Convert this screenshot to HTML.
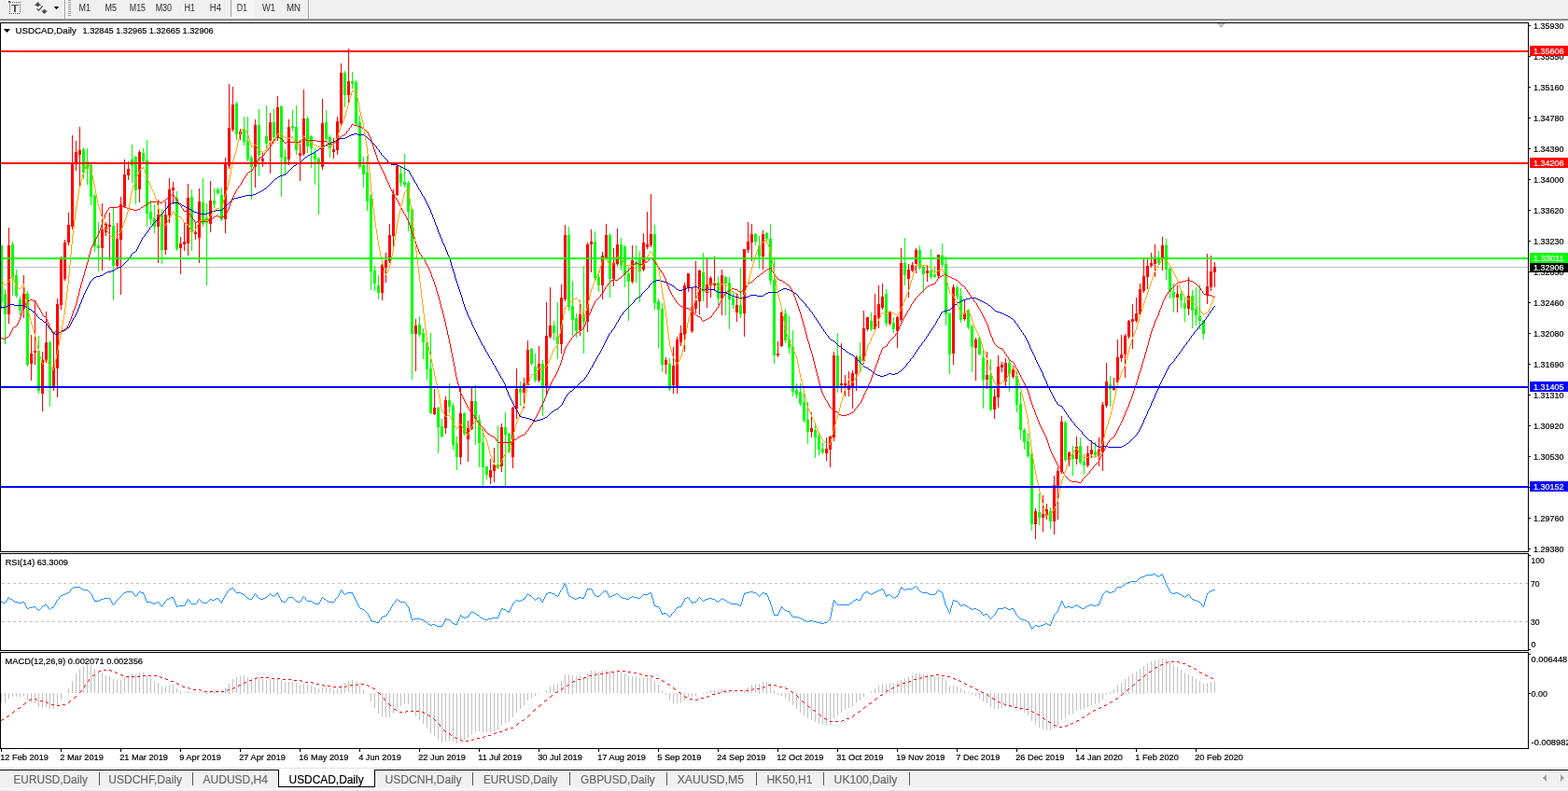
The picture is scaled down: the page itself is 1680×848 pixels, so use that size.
<!DOCTYPE html>
<html><head><meta charset="utf-8"><title>USDCAD,Daily</title>
<style>html,body{margin:0;padding:0;background:#fff;width:1680px;height:848px;overflow:hidden}
svg{position:absolute;left:0;top:0;display:block}
text{font-family:"Liberation Sans",sans-serif;white-space:pre;stroke:currentColor;stroke-width:0.2px}</style></head>
<body><svg width="1680" height="848" viewBox="0 0 1680 848" shape-rendering="crispEdges">
<rect x="0" y="0" width="1680" height="20" fill="#f0f0f0"/>
<rect x="0" y="20" width="1680" height="1" fill="#a8a8a8"/>
<rect x="0" y="21" width="1680" height="1" fill="#6e6e6e"/>
<path d="M13 2h1v1h-1z M15 2h1v1h-1z M17 2h1v1h-1z M19 2h1v1h-1z M21 2h1v1h-1z M10 14h1v1h-1z M12 14h1v1h-1z M14 14h1v1h-1z M16 14h1v1h-1z M18 14h1v1h-1z M20 14h1v1h-1z M10 4h1v1h-1z M10 6h1v1h-1z M10 8h1v1h-1z M10 10h1v1h-1z M10 12h1v1h-1z M21 4h1v1h-1z M21 6h1v1h-1z M21 8h1v1h-1z M21 10h1v1h-1z M21 12h1v1h-1z" fill="#555"/>
<path d="M9 1h2v1h1v1h-3z" fill="#555"/>
<rect x="12" y="5" width="8" height="1.2" fill="#555"/><rect x="15.2" y="5" width="1.7" height="7.6" fill="#555"/>
<path d="M37 5.9 L40.5 2 L44 5.9 Z M39.3 5.8h2.4v1.2h-2.4z M46.4 10.2h2.4v1.3h-2.4z M44 11.4 L51 11.4 L47.5 14.9 Z" fill="#4a4a4a" shape-rendering="auto"/>
<path d="M39.5 9.3 L41.4 11.4 L45.7 6.4" stroke="#505050" stroke-width="1.2" fill="none" shape-rendering="auto"/>
<path d="M57.8 7 L63.2 7 L60.5 10.2 Z" fill="#000" shape-rendering="auto"/>
<rect x="69" y="0" width="1" height="20" fill="#a0a0a0"/><rect x="70" y="0" width="1" height="20" fill="#fff"/>
<path d="M73 0h3v1h-3z M73 2h3v1h-3z M73 4h3v1h-3z M73 6h3v1h-3z M73 8h3v1h-3z M73 10h3v1h-3z M73 12h3v1h-3z M73 14h3v1h-3z M73 16h3v1h-3z" fill="#a0a0a0"/>
<rect x="247" y="0" width="1" height="18" fill="#a0a0a0"/>
<rect x="248" y="0" width="24" height="18" fill="#f6f6f6"/>
<rect x="247" y="18" width="26" height="1" fill="#fff"/>
<rect x="330" y="0" width="1" height="20" fill="#a0a0a0"/><rect x="331" y="0" width="1" height="20" fill="#fff"/>
<text x="84.6" y="12" font-size="10" fill="#404040" color="#404040" textLength="12.4" lengthAdjust="spacingAndGlyphs" style="stroke-width:0.1px">M1</text>
<text x="112.5" y="12" font-size="10" fill="#404040" color="#404040" textLength="12.5" lengthAdjust="spacingAndGlyphs" style="stroke-width:0.1px">M5</text>
<text x="138.8" y="12" font-size="10" fill="#404040" color="#404040" textLength="17.2" lengthAdjust="spacingAndGlyphs" style="stroke-width:0.1px">M15</text>
<text x="166.7" y="12" font-size="10" fill="#404040" color="#404040" textLength="17.3" lengthAdjust="spacingAndGlyphs" style="stroke-width:0.1px">M30</text>
<text x="197.6" y="12" font-size="10" fill="#404040" color="#404040" textLength="11.4" lengthAdjust="spacingAndGlyphs" style="stroke-width:0.1px">H1</text>
<text x="224.8" y="12" font-size="10" fill="#404040" color="#404040" textLength="12.2" lengthAdjust="spacingAndGlyphs" style="stroke-width:0.1px">H4</text>
<text x="253.8" y="12" font-size="10" fill="#404040" color="#404040" textLength="11.2" lengthAdjust="spacingAndGlyphs" style="stroke-width:0.1px">D1</text>
<text x="281" y="12" font-size="10" fill="#404040" color="#404040" textLength="14" lengthAdjust="spacingAndGlyphs" style="stroke-width:0.1px">W1</text>
<text x="307" y="12" font-size="10" fill="#404040" color="#404040" textLength="15" lengthAdjust="spacingAndGlyphs" style="stroke-width:0.1px">MN</text>
<rect x="0" y="22" width="1680" height="802" fill="#fff"/>
<g fill="#000">
<rect x="0" y="24" width="1638" height="1"/>
<rect x="0" y="24" width="1" height="568"/>
<rect x="1637" y="24" width="1" height="568"/>
<rect x="0" y="591" width="1638" height="1"/>
<rect x="0" y="593" width="1638" height="1"/><rect x="0" y="593" width="1" height="105"/><rect x="1637" y="593" width="1" height="105"/><rect x="0" y="697" width="1638" height="1"/>
<rect x="0" y="699" width="1638" height="1"/><rect x="0" y="699" width="1" height="104"/><rect x="1637" y="699" width="1" height="104"/><rect x="0" y="802" width="1638" height="1"/>
</g>
<path d="M1304 25 L1313 25 L1308.5 30 Z" fill="#c0c0c0" shape-rendering="auto"/>
<defs><clipPath id="cm"><rect x="1" y="25" width="1636" height="566"/></clipPath><clipPath id="cr"><rect x="1" y="594" width="1636" height="103"/></clipPath><clipPath id="cd"><rect x="1" y="700" width="1636" height="102"/></clipPath></defs>
<g clip-path="url(#cm)">
<rect x="1" y="286" width="1636" height="1" fill="#c0c0c0"/>
<path d="M9 244h1v103h-1z M25 295h1v46h-1z M33 359h1v49h-1z M37 322h1v69h-1z M45 377h1v64h-1z M49 334h1v55h-1z M57 358h1v61h-1z M61 320h1v106h-1z M65 275h1v57h-1z M69 257h1v44h-1z M73 228h1v35h-1z M77 145h1v101h-1z M81 151h1v32h-1z M85 136h1v63h-1z M109 218h1v72h-1z M113 238h1v15h-1z M117 228h1v51h-1z M125 239h1v48h-1z M129 211h1v105h-1z M133 171h1v52h-1z M137 173h1v20h-1z M149 161h1v56h-1z M169 214h1v68h-1z M177 216h1v57h-1z M181 191h1v48h-1z M185 195h1v24h-1z M193 254h1v40h-1z M197 239h1v30h-1z M201 197h1v77h-1z M209 238h1v19h-1z M213 202h1v80h-1z M225 194h1v55h-1z M241 169h1v81h-1z M245 90h1v91h-1z M249 93h1v48h-1z M257 138h1v12h-1z M273 128h1v73h-1z M281 164h1v15h-1z M289 121h1v65h-1z M297 103h1v48h-1z M309 128h1v49h-1z M321 150h1v44h-1z M325 96h1v71h-1z M345 106h1v76h-1z M357 148h1v22h-1z M361 125h1v41h-1z M365 68h1v66h-1z M373 52h1v59h-1z M409 282h1v40h-1z M413 271h1v32h-1z M417 240h1v42h-1z M421 203h1v62h-1z M425 177h1v33h-1z M445 342h1v56h-1z M465 417h1v28h-1z M477 425h1v40h-1z M493 416h1v82h-1z M501 451h1v44h-1z M505 416h1v45h-1z M525 492h1v27h-1z M529 480h1v37h-1z M537 454h1v52h-1z M549 436h1v66h-1z M553 395h1v54h-1z M561 405h1v33h-1z M565 365h1v50h-1z M577 371h1v39h-1z M585 324h1v100h-1z M589 308h1v55h-1z M601 305h1v74h-1z M605 241h1v82h-1z M621 322h1v38h-1z M629 260h1v96h-1z M633 246h1v46h-1z M645 270h1v51h-1z M649 240h1v38h-1z M657 266h1v41h-1z M661 245h1v40h-1z M677 263h1v41h-1z M689 250h1v41h-1z M693 227h1v40h-1z M697 208h1v57h-1z M713 383h1v18h-1z M721 372h1v50h-1z M725 361h1v61h-1z M729 349h1v22h-1z M733 303h1v74h-1z M737 293h1v20h-1z M741 309h1v48h-1z M745 280h1v56h-1z M749 289h1v48h-1z M757 278h1v52h-1z M761 296h1v23h-1z M765 275h1v37h-1z M773 289h1v49h-1z M789 314h1v31h-1z M797 267h1v94h-1z M801 238h1v33h-1z M805 240h1v40h-1z M817 247h1v42h-1z M833 366h1v17h-1z M837 334h1v38h-1z M869 442h1v27h-1z M885 469h1v25h-1z M889 467h1v34h-1z M893 377h1v96h-1z M901 368h1v53h-1z M905 402h1v23h-1z M909 398h1v27h-1z M913 397h1v41h-1z M917 381h1v38h-1z M925 333h1v57h-1z M929 340h1v15h-1z M937 315h1v40h-1z M941 306h1v46h-1z M945 304h1v28h-1z M953 333h1v16h-1z M961 339h1v34h-1z M965 266h1v79h-1z M973 283h1v36h-1z M977 281h1v11h-1z M981 266h1v27h-1z M993 285h1v17h-1z M1005 273h1v25h-1z M1021 305h1v86h-1z M1033 322h1v22h-1z M1045 362h1v46h-1z M1057 377h1v40h-1z M1065 417h1v32h-1z M1069 381h1v56h-1z M1073 388h1v11h-1z M1077 384h1v30h-1z M1085 392h1v14h-1z M1109 545h1v33h-1z M1117 531h1v39h-1z M1121 540h1v17h-1z M1129 510h1v63h-1z M1133 501h1v56h-1z M1137 446h1v62h-1z M1145 484h1v16h-1z M1153 468h1v30h-1z M1165 478h1v23h-1z M1169 472h1v19h-1z M1177 469h1v31h-1z M1181 431h1v74h-1z M1185 389h1v48h-1z M1193 405h1v14h-1z M1197 364h1v48h-1z M1201 359h1v29h-1z M1205 358h1v47h-1z M1209 343h1v20h-1z M1213 326h1v48h-1z M1217 319h1v27h-1z M1221 304h1v35h-1z M1225 278h1v36h-1z M1229 278h1v32h-1z M1233 271h1v16h-1z M1237 262h1v35h-1z M1245 254h1v36h-1z M1261 306h1v29h-1z M1273 297h1v41h-1z M1293 272h1v54h-1z M1297 274h1v38h-1z M1301 281h1v27h-1z M8 263h3v74h-3z M24 315h3v16h-3z M32 379h3v11h-3z M36 376h3v2h-3z M44 386h3v36h-3z M48 367h3v20h-3z M56 394h3v20h-3z M60 326h3v69h-3z M64 278h3v49h-3z M68 260h3v39h-3z M72 241h3v19h-3z M76 175h3v68h-3z M80 163h3v13h-3z M84 161h3v5h-3z M108 246h3v20h-3z M112 240h3v9h-3z M116 241h3v2h-3z M124 256h3v29h-3z M128 219h3v38h-3z M132 187h3v34h-3z M136 181h3v7h-3z M148 163h3v40h-3z M168 230h3v13h-3z M176 230h3v38h-3z M180 203h3v28h-3z M184 201h3v3h-3z M192 261h3v5h-3z M196 259h3v3h-3z M200 212h3v49h-3z M208 249h3v2h-3z M212 216h3v39h-3z M224 215h3v25h-3z M240 174h3v61h-3z M244 137h3v41h-3z M248 112h3v27h-3z M256 141h3v3h-3z M272 134h3v45h-3z M280 170h3v3h-3z M288 131h3v20h-3z M296 115h3v32h-3z M308 136h3v35h-3z M320 164h3v3h-3z M324 127h3v38h-3z M344 132h3v47h-3z M356 160h3v3h-3z M360 130h3v31h-3z M364 78h3v54h-3z M372 87h3v15h-3z M408 284h3v30h-3z M412 279h3v8h-3z M416 252h3v28h-3z M420 208h3v45h-3z M424 178h3v31h-3z M444 349h3v9h-3z M464 437h3v7h-3z M476 429h3v30h-3z M492 443h3v47h-3z M500 459h3v12h-3z M504 430h3v30h-3z M524 504h3v8h-3z M528 498h3v7h-3z M536 458h3v42h-3z M548 437h3v53h-3z M552 417h3v21h-3z M560 411h3v10h-3z M564 375h3v38h-3z M576 390h3v18h-3z M584 360h3v55h-3z M588 349h3v12h-3z M600 319h3v50h-3z M604 252h3v69h-3z M620 337h3v17h-3z M628 262h3v83h-3z M632 259h3v3h-3z M644 274h3v32h-3z M648 252h3v24h-3z M656 282h3v17h-3z M660 262h3v21h-3z M676 279h3v23h-3z M688 260h3v29h-3z M692 262h3v3h-3z M696 251h3v12h-3z M712 386h3v5h-3z M720 392h3v21h-3z M724 364h3v52h-3z M728 357h3v10h-3z M732 306h3v53h-3z M736 293h3v15h-3z M740 329h3v26h-3z M744 322h3v9h-3z M748 290h3v33h-3z M756 305h3v9h-3z M760 298h3v8h-3z M764 303h3v3h-3z M772 295h3v25h-3z M788 327h3v8h-3z M796 267h3v69h-3z M800 259h3v9h-3z M804 251h3v9h-3z M816 251h3v24h-3z M832 379h3v2h-3z M836 335h3v36h-3z M868 459h3v4h-3z M884 481h3v5h-3z M888 468h3v14h-3z M892 381h3v88h-3z M900 411h3v2h-3z M904 411h3v2h-3z M908 413h3v5h-3z M912 400h3v15h-3z M916 383h3v18h-3z M924 352h3v35h-3z M928 340h3v13h-3z M936 338h3v15h-3z M940 326h3v15h-3z M944 318h3v12h-3z M952 335h3v12h-3z M960 340h3v15h-3z M964 282h3v61h-3z M972 289h3v10h-3z M976 284h3v6h-3z M980 268h3v15h-3z M992 290h3v3h-3z M1004 273h3v23h-3z M1020 308h3v71h-3z M1032 336h3v6h-3z M1044 364h3v9h-3z M1056 402h3v5h-3z M1064 425h3v14h-3z M1068 393h3v33h-3z M1072 391h3v3h-3z M1076 389h3v20h-3z M1084 395h3v9h-3z M1108 548h3v14h-3z M1116 551h3v4h-3z M1120 546h3v7h-3z M1128 520h3v39h-3z M1132 505h3v16h-3z M1136 452h3v54h-3z M1144 485h3v8h-3z M1152 479h3v13h-3z M1164 486h3v13h-3z M1168 482h3v5h-3z M1176 482h3v6h-3z M1180 434h3v51h-3z M1184 409h3v26h-3z M1192 414h3v4h-3z M1196 383h3v27h-3z M1200 380h3v4h-3z M1204 360h3v20h-3z M1208 344h3v17h-3z M1212 342h3v3h-3z M1216 336h3v8h-3z M1220 310h3v27h-3z M1224 296h3v16h-3z M1228 285h3v12h-3z M1232 282h3v3h-3z M1236 276h3v7h-3z M1244 263h3v15h-3z M1260 315h3v4h-3z M1272 317h3v14h-3z M1292 307h3v10h-3z M1296 291h3v17h-3z M1300 286h3v6h-3z" fill="#ff0000"/>
<path d="M1 263h1v68h-1z M5 310h1v59h-1z M13 259h1v58h-1z M17 289h1v30h-1z M21 318h1v20h-1z M29 312h1v81h-1z M41 360h1v62h-1z M53 365h1v71h-1z M89 158h1v34h-1z M93 159h1v39h-1z M97 175h1v45h-1z M101 208h1v62h-1z M105 238h1v53h-1z M121 223h1v99h-1z M141 155h1v41h-1z M145 167h1v52h-1z M153 159h1v17h-1z M157 150h1v93h-1z M161 215h1v26h-1z M165 219h1v31h-1z M173 224h1v59h-1z M189 205h1v64h-1z M205 203h1v66h-1z M217 191h1v52h-1z M221 218h1v88h-1z M229 202h1v21h-1z M233 201h1v8h-1z M237 201h1v36h-1z M253 109h1v41h-1z M261 125h1v31h-1z M265 125h1v48h-1z M269 167h1v47h-1z M277 117h1v72h-1z M285 113h1v48h-1z M293 117h1v34h-1z M301 113h1v98h-1z M305 160h1v27h-1z M313 118h1v23h-1z M317 113h1v53h-1z M329 125h1v39h-1z M333 145h1v35h-1z M337 159h1v39h-1z M341 168h1v62h-1z M349 118h1v33h-1z M353 145h1v24h-1z M369 76h1v39h-1z M377 77h1v18h-1z M381 86h1v49h-1z M385 124h1v57h-1z M389 168h1v33h-1z M393 167h1v59h-1z M397 208h1v103h-1z M401 285h1v27h-1z M405 295h1v26h-1z M429 178h1v22h-1z M433 165h1v36h-1z M437 194h1v54h-1z M441 224h1v183h-1z M449 339h1v22h-1z M453 352h1v33h-1z M457 363h1v44h-1z M461 357h1v87h-1z M469 436h1v50h-1z M473 449h1v20h-1z M481 411h1v32h-1z M485 432h1v50h-1z M489 468h1v36h-1z M497 442h1v25h-1z M509 413h1v64h-1z M513 445h1v56h-1z M517 460h1v61h-1z M521 500h1v14h-1z M533 456h1v47h-1z M541 442h1v79h-1z M545 464h1v22h-1z M557 409h1v26h-1z M569 373h1v19h-1z M573 379h1v31h-1z M581 386h1v60h-1z M593 344h1v21h-1z M597 324h1v61h-1z M609 243h1v90h-1z M613 301h1v59h-1z M617 336h1v26h-1z M625 285h1v94h-1z M637 248h1v53h-1z M641 291h1v22h-1z M653 250h1v69h-1z M665 255h1v35h-1z M669 263h1v45h-1z M673 286h1v58h-1z M681 263h1v40h-1z M685 269h1v55h-1z M701 241h1v91h-1z M705 320h1v53h-1z M709 325h1v74h-1z M717 384h1v35h-1z M753 271h1v52h-1z M769 296h1v31h-1z M777 296h1v42h-1z M781 297h1v56h-1z M785 312h1v19h-1z M793 287h1v54h-1z M809 250h1v13h-1z M813 253h1v35h-1z M821 249h1v10h-1z M825 240h1v65h-1z M829 277h1v113h-1z M841 331h1v37h-1z M845 339h1v40h-1z M849 354h1v71h-1z M853 411h1v16h-1z M857 411h1v24h-1z M861 422h1v31h-1z M865 431h1v45h-1z M873 456h1v35h-1z M877 464h1v24h-1z M881 474h1v13h-1z M897 357h1v64h-1z M921 367h1v32h-1z M933 335h1v20h-1z M949 310h1v40h-1z M957 340h1v17h-1z M969 255h1v51h-1z M985 263h1v26h-1z M989 285h1v29h-1z M997 267h1v32h-1z M1001 285h1v13h-1z M1009 261h1v25h-1z M1013 275h1v74h-1z M1017 335h1v66h-1z M1025 306h1v15h-1z M1029 309h1v37h-1z M1037 331h1v22h-1z M1041 348h1v51h-1z M1049 360h1v21h-1z M1053 376h1v62h-1z M1061 385h1v56h-1z M1081 386h1v34h-1z M1089 398h1v44h-1z M1093 420h1v51h-1z M1097 459h1v23h-1z M1101 464h1v27h-1z M1105 486h1v83h-1z M1113 529h1v34h-1z M1125 544h1v23h-1z M1141 451h1v44h-1z M1149 478h1v32h-1z M1157 469h1v29h-1z M1161 487h1v22h-1z M1173 474h1v17h-1z M1189 403h1v33h-1z M1241 269h1v15h-1z M1249 256h1v44h-1z M1253 287h1v33h-1z M1257 304h1v31h-1z M1265 312h1v18h-1z M1269 320h1v25h-1z M1277 311h1v41h-1z M1281 308h1v41h-1z M1285 305h1v48h-1z M1289 343h1v21h-1z M0 263h3v61h-3z M4 315h3v22h-3z M12 262h3v35h-3z M16 295h3v22h-3z M20 321h3v12h-3z M28 315h3v76h-3z M40 376h3v43h-3z M52 367h3v47h-3z M88 160h3v25h-3z M92 173h3v8h-3z M96 177h3v34h-3z M100 210h3v54h-3z M104 263h3v3h-3z M120 242h3v43h-3z M140 171h3v7h-3z M144 168h3v36h-3z M152 164h3v9h-3z M156 172h3v57h-3z M160 227h3v8h-3z M164 234h3v9h-3z M172 230h3v38h-3z M188 212h3v55h-3z M204 211h3v38h-3z M216 217h3v23h-3z M220 234h3v5h-3z M228 215h3v4h-3z M232 203h3v4h-3z M236 209h3v26h-3z M252 111h3v33h-3z M260 138h3v14h-3z M264 151h3v20h-3z M268 169h3v10h-3z M276 134h3v32h-3z M284 146h3v8h-3z M292 131h3v16h-3z M300 114h3v55h-3z M304 168h3v6h-3z M312 135h3v2h-3z M316 136h3v25h-3z M328 127h3v30h-3z M332 146h3v13h-3z M336 164h3v7h-3z M340 170h3v5h-3z M348 131h3v18h-3z M352 147h3v12h-3z M368 78h3v24h-3z M376 87h3v3h-3z M380 88h3v45h-3z M384 131h3v48h-3z M388 177h3v10h-3z M392 185h3v31h-3z M396 210h3v81h-3z M400 290h3v14h-3z M404 306h3v8h-3z M428 186h3v10h-3z M432 195h3v3h-3z M436 196h3v31h-3z M440 224h3v134h-3z M448 348h3v11h-3z M452 357h3v10h-3z M456 367h3v29h-3z M460 395h3v48h-3z M468 437h3v21h-3z M472 457h3v11h-3z M480 429h3v7h-3z M484 435h3v42h-3z M488 475h3v15h-3z M496 443h3v22h-3z M508 430h3v19h-3z M512 450h3v25h-3z M516 474h3v27h-3z M520 500h3v9h-3z M532 498h3v3h-3z M540 458h3v8h-3z M544 465h3v19h-3z M556 417h3v4h-3z M568 374h3v16h-3z M572 393h3v15h-3z M580 390h3v25h-3z M592 349h3v8h-3z M596 361h3v8h-3z M608 252h3v77h-3z M612 328h3v15h-3z M616 341h3v14h-3z M624 338h3v7h-3z M636 259h3v39h-3z M640 297h3v9h-3z M652 252h3v47h-3z M664 262h3v23h-3z M668 264h3v30h-3z M672 293h3v9h-3z M680 281h3v3h-3z M684 276h3v15h-3z M700 251h3v74h-3z M704 323h3v9h-3z M708 331h3v60h-3z M716 390h3v27h-3z M752 292h3v21h-3z M768 303h3v17h-3z M776 297h3v7h-3z M780 303h3v18h-3z M784 320h3v7h-3z M792 327h3v10h-3z M808 251h3v8h-3z M812 263h3v12h-3z M820 250h3v6h-3z M824 256h3v45h-3z M828 300h3v81h-3z M840 336h3v29h-3z M844 364h3v9h-3z M848 372h3v48h-3z M852 418h3v5h-3z M856 420h3v13h-3z M860 431h3v20h-3z M864 450h3v13h-3z M872 461h3v8h-3z M876 468h3v14h-3z M880 481h3v4h-3z M896 381h3v34h-3z M920 382h3v6h-3z M932 344h3v9h-3z M948 315h3v32h-3z M956 346h3v7h-3z M968 282h3v13h-3z M984 268h3v19h-3z M988 286h3v8h-3z M996 290h3v7h-3z M1000 294h3v3h-3z M1008 274h3v10h-3z M1012 283h3v54h-3z M1016 336h3v44h-3z M1024 308h3v10h-3z M1028 317h3v26h-3z M1036 332h3v19h-3z M1040 350h3v22h-3z M1048 362h3v18h-3z M1052 383h3v24h-3z M1060 402h3v37h-3z M1080 389h3v12h-3z M1088 403h3v31h-3z M1092 433h3v28h-3z M1096 461h3v13h-3z M1100 473h3v16h-3z M1104 487h3v75h-3z M1112 549h3v6h-3z M1124 548h3v11h-3z M1140 453h3v40h-3z M1148 488h3v4h-3z M1156 478h3v18h-3z M1160 495h3v4h-3z M1172 484h3v4h-3z M1188 412h3v5h-3z M1240 276h3v6h-3z M1248 263h3v26h-3z M1252 288h3v25h-3z M1256 313h3v6h-3z M1264 315h3v7h-3z M1268 325h3v6h-3z M1276 317h3v16h-3z M1280 331h3v7h-3z M1284 339h3v5h-3z M1288 344h3v14h-3z" fill="#00ff00"/>
<path d="M0 0m1 329h5v1h-5zm5 -1h2v1h-2zm2 -1h3v1h-3zm3 -1h4v1h-4zm4 1h11v1h-11zm11 1h2v1h-2zm2 1h2v1h-2zm2 1h1v1h-1zm1 1h2v1h-2zm2 1h1v1h-1zm1 1h1v1h-1zm1 1h2v1h-2zm2 1h1v1h-1zm1 1h1v1h-1zm1 1h1v2h-1zm1 2h1v1h-1zm1 1h1v1h-1zm1 1h1v1h-1zm1 1h2v1h-2zm2 1h1v1h-1zm1 1h1v1h-1zm1 1h2v1h-2zm2 1h1v1h-1zm1 1h1v2h-1zm1 2h1v1h-1zm1 1h1v2h-1zm1 2h1v1h-1zm1 1h1v1h-1zm1 1h1v2h-1zm1 2h1v1h-1zm1 1h2v1h-2zm2 1h3v1h-3zm3 -1h1v1h-1zm1 -1h2v1h-2zm2 -1h1v1h-1zm1 -1h2v1h-2zm2 -1h2v1h-2zm2 -1h2v1h-2zm2 -1h2v1h-2zm2 -2h1v2h-1zm1 -2h1v2h-1zm1 -2h1v2h-1zm1 -2h1v2h-1zm1 -2h1v2h-1zm1 -1h1v1h-1zm1 -2h1v2h-1zm1 -2h1v2h-1zm1 -2h1v2h-1zm1 -3h1v3h-1zm1 -2h1v2h-1zm1 -3h1v3h-1zm1 -2h1v2h-1zm1 -3h1v3h-1zm1 -2h1v2h-1zm1 -3h1v3h-1zm1 -2h1v2h-1zm1 -2h1v2h-1zm1 -2h1v2h-1zm1 -2h1v2h-1zm1 -2h1v2h-1zm1 -2h1v2h-1zm1 -2h1v2h-1zm1 -1h1v1h-1zm1 -1h1v1h-1zm1 -1h1v1h-1zm1 -1h1v1h-1zm1 -1h2v1h-2zm2 -1h4v1h-4zm4 -1h3v1h-3zm3 -1h1v1h-1zm1 -1h2v1h-2zm2 -1h2v1h-2zm2 -1h4v1h-4zm4 -1h3v1h-3zm3 -1h1v1h-1zm1 -1h2v1h-2zm2 -1h2v1h-2zm2 -1h3v1h-3zm3 -1h1v1h-1zm1 -1h1v1h-1zm1 -1h1v1h-1zm1 -1h1v1h-1zm1 -1h1v1h-1zm1 -1h1v1h-1zm1 -1h1v1h-1zm1 -1h1v1h-1zm1 -2h1v2h-1zm1 -1h1v1h-1zm1 -2h1v2h-1zm1 -1h1v1h-1zm1 -1h1v1h-1zm1 -1h2v1h-2zm2 -1h1v1h-1zm1 -2h1v2h-1zm1 -2h1v2h-1zm1 -2h1v2h-1zm1 -2h1v2h-1zm1 -2h1v2h-1zm1 -2h1v2h-1zm1 -2h1v2h-1zm1 -1h1v1h-1zm1 -1h1v1h-1zm1 -2h1v2h-1zm1 -1h1v1h-1zm1 -1h1v1h-1zm1 -2h1v2h-1zm1 -1h1v1h-1zm1 -2h1v2h-1zm1 -1h1v1h-1zm1 -1h1v1h-1zm1 -2h1v2h-1zm1 -1h1v1h-1zm1 -1h1v1h-1zm1 -1h1v1h-1zm1 -1h1v1h-1zm1 -1h1v1h-1zm1 -1h1v1h-1zm1 -1h1v1h-1zm1 -2h1v2h-1zm1 -1h1v1h-1zm1 -1h1v1h-1zm1 -1h1v1h-1zm1 -2h1v2h-1zm1 -1h1v1h-1zm1 -1h1v1h-1zm1 -1h1v1h-1zm1 -2h1v2h-1zm1 -1h1v1h-1zm1 -1h1v1h-1zm1 -1h2v1h-2zm2 -1h7v1h-7zm7 1h3v1h-3zm3 1h1v1h-1zm1 1h2v1h-2zm2 1h2v1h-2zm2 1h3v1h-3zm3 1h1v1h-1zm1 1h2v1h-2zm2 1h1v1h-1zm1 1h2v1h-2zm2 1h3v1h-3zm3 1h4v1h-4zm4 1h7v1h-7zm7 -1h2v1h-2zm2 -1h3v1h-3zm3 -1h4v1h-4zm4 -1h7v1h-7zm7 -1h1v1h-1zm1 -1h1v1h-1zm1 -1h1v1h-1zm1 -1h1v1h-1zm1 -1h1v1h-1zm1 -1h1v1h-1zm1 -1h1v1h-1zm1 -1h1v1h-1zm1 -1h1v1h-1zm1 -1h1v1h-1zm1 -1h1v1h-1zm1 -1h2v1h-2zm2 -1h4v1h-4zm4 -1h4v1h-4zm4 -1h4v1h-4zm4 -1h8v1h-8zm8 -1h3v1h-3zm3 -1h2v1h-2zm2 -1h2v1h-2zm2 -1h2v1h-2zm2 -1h2v1h-2zm2 -1h1v1h-1zm1 -1h2v1h-2zm2 -1h1v1h-1zm1 -1h1v1h-1zm1 -1h1v1h-1zm1 -1h1v1h-1zm1 -1h1v1h-1zm1 -1h1v1h-1zm1 -1h1v1h-1zm1 -1h1v1h-1zm1 -1h1v1h-1zm1 -1h1v1h-1zm1 -1h2v1h-2zm2 -1h1v1h-1zm1 -1h2v1h-2zm2 -1h3v1h-3zm3 -1h3v1h-3zm3 -1h1v1h-1zm1 -1h1v1h-1zm1 -1h1v1h-1zm1 -1h1v1h-1zm1 -1h1v1h-1zm1 -1h1v1h-1zm1 -1h1v1h-1zm1 -1h1v1h-1zm1 -1h1v1h-1zm1 -1h2v1h-2zm2 -1h1v1h-1zm1 -1h2v1h-2zm2 -1h2v1h-2zm2 -1h1v1h-1zm1 -1h1v1h-1zm1 -1h1v1h-1zm1 -1h1v1h-1zm1 -1h1v1h-1zm1 -1h2v1h-2zm2 -1h1v1h-1zm1 -1h2v1h-2zm2 -1h2v1h-2zm2 -1h2v1h-2zm2 -1h2v1h-2zm2 -1h1v1h-1zm1 -1h2v1h-2zm2 -1h1v1h-1zm1 -1h2v1h-2zm2 -1h2v1h-2zm2 -1h1v1h-1zm1 -1h2v1h-2zm2 -1h2v1h-2zm2 -1h3v1h-3zm3 -1h1v1h-1zm1 -1h2v1h-2zm2 -1h2v1h-2zm2 -1h3v1h-3zm3 -1h2v1h-2zm2 -1h6v1h-6zm6 -1h2v1h-2zm2 -1h2v1h-2zm2 -1h2v1h-2zm2 -1h3v1h-3zm3 -1h4v1h-4zm4 1h7v1h-7zm7 1h1v1h-1zm1 1h2v1h-2zm2 1h1v1h-1zm1 1h1v1h-1zm1 1h1v1h-1zm1 1h1v1h-1zm1 1h1v1h-1zm1 1h1v1h-1zm1 1h1v1h-1zm1 1h1v1h-1zm1 1h1v1h-1zm1 1h1v1h-1zm1 1h1v2h-1zm1 2h1v1h-1zm1 1h1v1h-1zm1 1h1v2h-1zm1 2h1v1h-1zm1 1h1v2h-1zm1 2h1v1h-1zm1 1h1v1h-1zm1 1h1v1h-1zm1 1h1v1h-1zm1 1h1v1h-1zm1 1h1v1h-1zm1 1h1v2h-1zm1 2h1v1h-1zm1 1h2v1h-2zm2 1h7v1h-7zm7 1h2v1h-2zm2 1h2v1h-2zm2 1h2v1h-2zm2 1h2v1h-2zm2 1h2v1h-2zm2 1h2v1h-2zm2 1h1v2h-1zm1 2h1v2h-1zm1 2h1v2h-1zm1 2h1v1h-1zm1 1h1v2h-1zm1 2h1v2h-1zm1 2h1v2h-1zm1 2h1v1h-1zm1 1h1v2h-1zm1 2h1v2h-1zm1 2h1v2h-1zm1 2h1v1h-1zm1 1h1v2h-1zm1 2h1v2h-1zm1 2h1v2h-1zm1 2h1v1h-1zm1 1h1v2h-1zm1 2h1v2h-1zm1 2h1v2h-1zm1 2h1v2h-1zm1 2h1v2h-1zm1 2h1v2h-1zm1 2h1v2h-1zm1 2h1v3h-1zm1 3h1v2h-1zm1 2h1v3h-1zm1 3h1v2h-1zm1 2h1v3h-1zm1 3h1v3h-1zm1 3h1v2h-1zm1 2h1v3h-1zm1 3h1v3h-1zm1 3h1v2h-1zm1 2h1v3h-1zm1 3h1v2h-1zm1 2h1v3h-1zm1 3h1v2h-1zm1 2h1v2h-1zm1 2h1v2h-1zm1 2h1v3h-1zm1 3h1v2h-1zm1 2h1v3h-1zm1 3h1v2h-1zm1 2h1v3h-1zm1 3h1v3h-1zm1 3h1v4h-1zm1 4h1v3h-1zm1 3h1v3h-1zm1 3h1v3h-1zm1 3h1v4h-1zm1 4h1v3h-1zm1 3h1v3h-1zm1 3h1v3h-1zm1 3h1v3h-1zm1 3h1v3h-1zm1 3h1v3h-1zm1 3h1v3h-1zm1 3h1v4h-1zm1 4h1v3h-1zm1 3h1v3h-1zm1 3h1v3h-1zm1 3h1v2h-1zm1 2h1v3h-1zm1 3h1v2h-1zm1 2h1v2h-1zm1 2h1v2h-1zm1 2h1v2h-1zm1 2h1v3h-1zm1 3h1v2h-1zm1 2h1v2h-1zm1 2h1v2h-1zm1 2h1v2h-1zm1 2h1v2h-1zm1 2h1v2h-1zm1 2h1v2h-1zm1 2h1v2h-1zm1 2h1v2h-1zm1 2h1v2h-1zm1 2h1v2h-1zm1 2h1v1h-1zm1 1h1v2h-1zm1 2h1v2h-1zm1 2h1v2h-1zm1 2h1v1h-1zm1 1h1v2h-1zm1 2h1v2h-1zm1 2h1v2h-1zm1 2h1v1h-1zm1 1h1v2h-1zm1 2h1v2h-1zm1 2h1v2h-1zm1 2h1v1h-1zm1 1h1v2h-1zm1 2h1v2h-1zm1 2h1v2h-1zm1 2h1v1h-1zm1 1h1v2h-1zm1 2h1v2h-1zm1 2h1v2h-1zm1 2h1v1h-1zm1 1h1v2h-1zm1 2h1v2h-1zm1 2h1v2h-1zm1 2h1v3h-1zm1 3h1v3h-1zm1 3h1v2h-1zm1 2h1v3h-1zm1 3h1v2h-1zm1 2h1v2h-1zm1 2h1v2h-1zm1 2h1v2h-1zm1 2h1v2h-1zm1 2h1v2h-1zm1 2h1v2h-1zm1 2h1v2h-1zm1 2h1v1h-1zm1 1h1v2h-1zm1 2h1v2h-1zm1 2h1v2h-1zm1 2h2v1h-2zm2 1h4v1h-4zm4 1h4v1h-4zm4 1h3v1h-3zm3 1h2v1h-2zm2 1h3v1h-3zm3 -1h4v1h-4zm4 -1h3v1h-3zm3 -1h2v1h-2zm2 -1h2v1h-2zm2 -1h1v1h-1zm1 -1h1v1h-1zm1 -1h1v1h-1zm1 -1h1v1h-1zm1 -1h1v1h-1zm1 -1h2v1h-2zm2 -1h1v1h-1zm1 -1h2v1h-2zm2 -1h2v1h-2zm2 -1h1v1h-1zm1 -1h1v1h-1zm1 -1h1v1h-1zm1 -1h1v1h-1zm1 -2h1v2h-1zm1 -2h1v2h-1zm1 -2h1v2h-1zm1 -2h1v2h-1zm1 -1h1v1h-1zm1 -2h1v2h-1zm1 -1h1v1h-1zm1 -1h1v1h-1zm1 -1h1v1h-1zm1 -1h2v1h-2zm2 -1h1v1h-1zm1 -1h1v1h-1zm1 -1h1v1h-1zm1 -1h1v1h-1zm1 -1h1v1h-1zm1 -1h1v1h-1zm1 -1h1v1h-1zm1 -1h1v1h-1zm1 -1h1v1h-1zm1 -1h1v1h-1zm1 -1h2v1h-2zm2 -1h1v1h-1zm1 -2h1v2h-1zm1 -1h1v1h-1zm1 -2h1v2h-1zm1 -1h1v1h-1zm1 -2h1v2h-1zm1 -2h1v2h-1zm1 -2h1v2h-1zm1 -1h1v1h-1zm1 -2h1v2h-1zm1 -2h1v2h-1zm1 -2h1v2h-1zm1 -1h1v1h-1zm1 -2h1v2h-1zm1 -2h1v2h-1zm1 -2h1v2h-1zm1 -1h1v1h-1zm1 -2h1v2h-1zm1 -2h1v2h-1zm1 -2h1v2h-1zm1 -2h1v2h-1zm1 -2h1v2h-1zm1 -2h1v2h-1zm1 -2h1v2h-1zm1 -2h1v2h-1zm1 -2h1v2h-1zm1 -2h1v2h-1zm1 -2h1v2h-1zm1 -1h1v1h-1zm1 -1h1v1h-1zm1 -2h1v2h-1zm1 -1h1v1h-1zm1 -1h1v1h-1zm1 -2h1v2h-1zm1 -2h1v2h-1zm1 -2h1v2h-1zm1 -1h1v1h-1zm1 -2h1v2h-1zm1 -2h1v2h-1zm1 -2h1v2h-1zm1 -1h1v1h-1zm1 -1h1v1h-1zm1 -2h1v2h-1zm1 -1h1v1h-1zm1 -1h1v1h-1zm1 -1h1v1h-1zm1 -1h1v1h-1zm1 -1h1v1h-1zm1 -1h1v1h-1zm1 -1h1v1h-1zm1 -1h1v1h-1zm1 -1h1v1h-1zm1 -1h1v1h-1zm1 -1h1v1h-1zm1 -2h1v2h-1zm1 -1h1v1h-1zm1 -1h1v1h-1zm1 -1h2v1h-2zm2 -1h2v1h-2zm2 -1h1v1h-1zm1 -2h1v2h-1zm1 -1h1v1h-1zm1 -1h1v1h-1zm1 -1h1v1h-1zm1 -1h1v1h-1zm1 -1h1v1h-1zm1 -1h1v1h-1zm1 -1h1v1h-1zm1 -2h1v2h-1zm1 -1h1v1h-1zm1 -1h1v1h-1zm1 -1h1v1h-1zm1 -1h2v1h-2zm2 -1h2v1h-2zm2 -1h4v1h-4zm4 1h4v1h-4zm4 1h3v1h-3zm3 1h2v1h-2zm2 1h2v1h-2zm2 1h2v1h-2zm2 1h2v1h-2zm2 1h1v1h-1zm1 1h1v1h-1zm1 1h1v1h-1zm1 1h2v1h-2zm2 1h4v1h-4zm4 -1h3v1h-3zm3 -1h2v1h-2zm2 -1h7v1h-7zm7 -1h4v1h-4zm4 1h3v1h-3zm3 1h2v1h-2zm2 1h14v1h-14zm14 1h1v1h-1zm1 1h2v1h-2zm2 1h9v1h-9zm9 1h2v1h-2zm2 1h2v1h-2zm2 1h2v1h-2zm2 1h3v1h-3zm3 1h4v1h-4zm4 1h8v1h-8zm8 -1h3v1h-3zm3 -1h2v1h-2zm2 -1h7v1h-7zm7 1h7v1h-7zm7 -1h1v1h-1zm1 -1h2v1h-2zm2 -1h2v1h-2zm2 -1h11v1h-11zm11 -1h1v1h-1zm1 -1h2v1h-2zm2 -1h2v1h-2zm2 -1h4v1h-4zm4 1h3v1h-3zm3 1h2v1h-2zm2 1h2v1h-2zm2 1h1v1h-1zm1 1h2v1h-2zm2 1h1v1h-1zm1 1h1v1h-1zm1 1h1v2h-1zm1 2h1v1h-1zm1 1h1v1h-1zm1 1h1v1h-1zm1 1h1v1h-1zm1 1h1v1h-1zm1 1h1v1h-1zm1 1h1v1h-1zm1 1h1v2h-1zm1 2h1v1h-1zm1 1h1v1h-1zm1 1h1v1h-1zm1 1h1v2h-1zm1 2h1v1h-1zm1 1h1v1h-1zm1 1h1v2h-1zm1 2h1v1h-1zm1 1h1v2h-1zm1 2h1v1h-1zm1 1h1v2h-1zm1 2h1v1h-1zm1 1h1v2h-1zm1 2h1v1h-1zm1 1h1v2h-1zm1 2h1v1h-1zm1 1h1v2h-1zm1 2h1v1h-1zm1 1h1v2h-1zm1 2h1v1h-1zm1 1h1v2h-1zm1 2h1v1h-1zm1 1h1v1h-1zm1 1h1v2h-1zm1 2h1v1h-1zm1 1h1v1h-1zm1 1h2v1h-2zm2 1h2v1h-2zm2 1h1v1h-1zm1 1h1v1h-1zm1 1h1v1h-1zm1 1h1v1h-1zm1 1h1v1h-1zm1 1h2v1h-2zm2 1h1v1h-1zm1 1h1v1h-1zm1 1h2v1h-2zm2 1h1v1h-1zm1 1h1v1h-1zm1 1h2v1h-2zm2 1h1v1h-1zm1 1h2v1h-2zm2 1h2v1h-2zm2 1h1v1h-1zm1 1h1v1h-1zm1 1h1v1h-1zm1 1h1v1h-1zm1 1h1v1h-1zm1 1h1v1h-1zm1 1h1v1h-1zm1 1h1v1h-1zm1 1h1v1h-1zm1 1h1v1h-1zm1 1h1v1h-1zm1 1h1v1h-1zm1 1h2v1h-2zm2 1h2v1h-2zm2 1h1v1h-1zm1 1h2v1h-2zm2 1h1v1h-1zm1 1h1v1h-1zm1 1h2v1h-2zm2 1h1v1h-1zm1 1h2v1h-2zm2 1h3v1h-3zm3 1h4v1h-4zm4 -1h3v1h-3zm3 -1h2v1h-2zm2 -1h3v1h-3zm3 1h4v1h-4zm4 -1h3v1h-3zm3 -1h1v1h-1zm1 -1h2v1h-2zm2 -1h1v1h-1zm1 -1h1v1h-1zm1 -1h1v1h-1zm1 -1h1v1h-1zm1 -1h1v1h-1zm1 -1h1v1h-1zm1 -2h1v2h-1zm1 -1h1v1h-1zm1 -1h1v1h-1zm1 -1h1v1h-1zm1 -2h1v2h-1zm1 -1h1v1h-1zm1 -1h1v1h-1zm1 -2h1v2h-1zm1 -1h1v1h-1zm1 -2h1v2h-1zm1 -1h1v1h-1zm1 -2h1v2h-1zm1 -1h1v1h-1zm1 -2h1v2h-1zm1 -1h1v1h-1zm1 -1h1v1h-1zm1 -2h1v2h-1zm1 -1h1v1h-1zm1 -1h1v1h-1zm1 -2h1v2h-1zm1 -1h1v1h-1zm1 -2h1v2h-1zm1 -1h1v1h-1zm1 -2h1v2h-1zm1 -1h1v1h-1zm1 -2h1v2h-1zm1 -1h1v1h-1zm1 -2h1v2h-1zm1 -1h1v1h-1zm1 -2h1v2h-1zm1 -1h1v1h-1zm1 -2h1v2h-1zm1 -2h1v2h-1zm1 -2h1v2h-1zm1 -1h1v1h-1zm1 -2h1v2h-1zm1 -2h1v2h-1zm1 -2h1v2h-1zm1 -1h2v1h-2zm2 -1h4v1h-4zm4 -1h3v1h-3zm3 -1h1v1h-1zm1 -1h1v1h-1zm1 -1h1v1h-1zm1 -1h1v1h-1zm1 -1h1v1h-1zm1 -1h2v1h-2zm2 -1h1v1h-1zm1 -1h2v1h-2zm2 -1h2v1h-2zm2 -1h2v1h-2zm2 -1h3v1h-3zm3 -1h4v1h-4zm4 -1h7v1h-7zm7 1h2v1h-2zm2 1h2v1h-2zm2 1h2v1h-2zm2 1h2v1h-2zm2 1h2v1h-2zm2 1h2v1h-2zm2 1h1v1h-1zm1 1h2v1h-2zm2 1h1v1h-1zm1 1h1v1h-1zm1 1h1v1h-1zm1 1h1v1h-1zm1 1h1v1h-1zm1 1h2v1h-2zm2 1h3v1h-3zm3 1h3v1h-3zm3 1h2v1h-2zm2 1h2v1h-2zm2 1h2v1h-2zm2 1h2v1h-2zm2 1h1v1h-1zm1 1h2v1h-2zm2 1h1v1h-1zm1 1h1v1h-1zm1 1h1v2h-1zm1 2h1v1h-1zm1 1h1v1h-1zm1 1h1v2h-1zm1 2h1v1h-1zm1 1h1v2h-1zm1 2h1v1h-1zm1 1h1v2h-1zm1 2h1v1h-1zm1 1h1v2h-1zm1 2h1v1h-1zm1 1h1v2h-1zm1 2h1v2h-1zm1 2h1v2h-1zm1 2h1v2h-1zm1 2h1v2h-1zm1 2h1v3h-1zm1 3h1v2h-1zm1 2h1v2h-1zm1 2h1v2h-1zm1 2h1v2h-1zm1 2h1v2h-1zm1 2h1v3h-1zm1 3h1v2h-1zm1 2h1v2h-1zm1 2h1v2h-1zm1 2h1v2h-1zm1 2h1v2h-1zm1 2h1v2h-1zm1 2h1v2h-1zm1 2h1v3h-1zm1 3h1v2h-1zm1 2h1v2h-1zm1 2h1v2h-1zm1 2h1v3h-1zm1 3h1v2h-1zm1 2h1v2h-1zm1 2h1v2h-1zm1 2h1v2h-1zm1 2h1v2h-1zm1 2h1v2h-1zm1 2h1v2h-1zm1 2h1v2h-1zm1 2h1v2h-1zm1 2h1v1h-1zm1 1h1v2h-1zm1 2h1v1h-1zm1 1h2v1h-2zm2 1h2v1h-2zm2 1h1v2h-1zm1 2h1v1h-1zm1 1h1v2h-1zm1 2h1v1h-1zm1 1h1v2h-1zm1 2h1v1h-1zm1 1h1v2h-1zm1 2h1v1h-1zm1 1h1v1h-1zm1 1h1v2h-1zm1 2h1v1h-1zm1 1h1v1h-1zm1 1h1v1h-1zm1 1h1v2h-1zm1 2h1v1h-1zm1 1h1v1h-1zm1 1h1v1h-1zm1 1h1v1h-1zm1 1h1v1h-1zm1 1h1v1h-1zm1 1h1v1h-1zm1 1h1v2h-1zm1 2h1v1h-1zm1 1h1v1h-1zm1 1h1v1h-1zm1 1h1v1h-1zm1 1h1v1h-1zm1 1h1v1h-1zm1 1h1v1h-1zm1 1h2v1h-2zm2 1h1v1h-1zm1 1h1v1h-1zm1 1h2v1h-2zm2 1h1v1h-1zm1 1h1v1h-1zm1 1h2v1h-2zm2 1h2v1h-2zm2 -1h8v1h-8zm8 1h15v1h-15zm15 -1h2v1h-2zm2 -1h2v1h-2zm2 -1h1v1h-1zm1 -1h2v1h-2zm2 -1h1v1h-1zm1 -1h1v1h-1zm1 -1h1v1h-1zm1 -1h1v1h-1zm1 -1h1v1h-1zm1 -1h1v1h-1zm1 -1h1v1h-1zm1 -1h1v1h-1zm1 -1h1v1h-1zm1 -2h1v2h-1zm1 -1h1v1h-1zm1 -2h1v2h-1zm1 -2h1v2h-1zm1 -2h1v2h-1zm1 -2h1v2h-1zm1 -2h1v2h-1zm1 -3h1v3h-1zm1 -2h1v2h-1zm1 -2h1v2h-1zm1 -2h1v2h-1zm1 -3h1v3h-1zm1 -2h1v2h-1zm1 -2h1v2h-1zm1 -2h1v2h-1zm1 -3h1v3h-1zm1 -2h1v2h-1zm1 -2h1v2h-1zm1 -2h1v2h-1zm1 -3h1v3h-1zm1 -2h1v2h-1zm1 -2h1v2h-1zm1 -2h1v2h-1zm1 -3h1v3h-1zm1 -2h1v2h-1zm1 -2h1v2h-1zm1 -2h1v2h-1zm1 -2h1v2h-1zm1 -2h1v2h-1zm1 -2h1v2h-1zm1 -2h1v2h-1zm1 -2h1v2h-1zm1 -2h1v2h-1zm1 -2h1v2h-1zm1 -2h1v2h-1zm1 -1h1v1h-1zm1 -1h1v1h-1zm1 -1h1v1h-1zm1 -1h1v1h-1zm1 -1h1v1h-1zm1 -2h1v2h-1zm1 -1h1v1h-1zm1 -2h1v2h-1zm1 -1h1v1h-1zm1 -1h1v1h-1zm1 -2h1v2h-1zm1 -1h1v1h-1zm1 -1h1v1h-1zm1 -2h1v2h-1zm1 -1h1v1h-1zm1 -2h1v2h-1zm1 -1h1v1h-1zm1 -1h1v1h-1zm1 -2h1v2h-1zm1 -1h1v1h-1zm1 -1h1v1h-1zm1 -2h1v2h-1zm1 -1h1v1h-1zm1 -2h1v2h-1zm1 -1h1v1h-1zm1 -1h1v1h-1zm1 -2h1v2h-1zm1 -1h1v1h-1zm1 -1h1v1h-1zm1 -1h1v1h-1zm1 -2h1v2h-1zm1 -1h1v1h-1zm1 -1h1v1h-1zm1 -1h1v1h-1zm1 -1h1v1h-1zm1 -1h1v1h-1zm1 -1h1v1h-1zm1 -2h1v2h-1zm1 -1h1v1h-1zm1 -2h1v2h-1zm1 -1h1v1h-1zm1 -2h1v2h-1zm1 -1h1v1h-1zm1 -2h1v2h-1zm1 -1h1v1h-1zm1 -1h1v1h-1zm1 -2h1v2h-1zm1 -1h1v1h-1zm1 -1h1v1h-1z" fill="#0000cd"/>
<path d="M0 0m1 362h2v1h-2zm2 1h3v1h-3zm3 -1h1v1h-1zm1 -1h2v1h-2zm2 -1h1v1h-1zm1 -2h1v2h-1zm1 -2h1v2h-1zm1 -2h1v2h-1zm1 -2h1v2h-1zm1 -1h1v1h-1zm1 -1h2v1h-2zm2 -1h1v1h-1zm1 -2h1v2h-1zm1 -2h1v2h-1zm1 -2h1v2h-1zm1 -3h1v3h-1zm1 -3h1v3h-1zm1 -4h1v4h-1zm1 -3h1v3h-1zm1 -2h1v2h-1zm1 -1h1v1h-1zm1 -2h1v2h-1zm1 -1h1v1h-1zm1 -1h1v1h-1zm1 -1h2v1h-2zm2 -1h3v1h-3zm3 1h3v1h-3zm3 1h1v2h-1zm1 2h1v2h-1zm1 2h1v2h-1zm1 2h1v1h-1zm1 1h1v2h-1zm1 2h1v2h-1zm1 2h1v2h-1zm1 2h1v2h-1zm1 2h1v1h-1zm1 1h2v1h-2zm2 1h1v2h-1zm1 2h1v3h-1zm1 3h1v2h-1zm1 2h1v3h-1zm1 3h1v2h-1zm1 2h1v1h-1zm1 1h1v2h-1zm1 2h1v1h-1zm1 1h2v1h-2zm2 -1h4v1h-4zm4 1h3v1h-3zm3 -1h2v1h-2zm2 -1h2v1h-2zm2 -2h1v2h-1zm1 -1h1v1h-1zm1 -2h1v2h-1zm1 -2h1v2h-1zm1 -3h1v3h-1zm1 -2h1v2h-1zm1 -3h1v3h-1zm1 -3h1v3h-1zm1 -3h1v3h-1zm1 -2h1v2h-1zm1 -3h1v3h-1zm1 -3h1v3h-1zm1 -4h1v4h-1zm1 -4h1v4h-1zm1 -4h1v4h-1zm1 -4h1v4h-1zm1 -4h1v4h-1zm1 -3h1v3h-1zm1 -4h1v4h-1zm1 -3h1v3h-1zm1 -4h1v4h-1zm1 -3h1v3h-1zm1 -4h1v4h-1zm1 -3h1v3h-1zm1 -4h1v4h-1zm1 -4h1v4h-1zm1 -4h1v4h-1zm1 -3h1v3h-1zm1 -2h1v2h-1zm1 -2h1v2h-1zm1 -2h1v2h-1zm1 -2h1v2h-1zm1 -2h1v2h-1zm1 -2h1v2h-1zm1 -2h1v2h-1zm1 -2h1v2h-1zm1 -3h1v3h-1zm1 -3h1v3h-1zm1 -3h1v3h-1zm1 -3h1v3h-1zm1 -3h1v3h-1zm1 -2h1v2h-1zm1 -3h1v3h-1zm1 -2h1v2h-1zm1 -2h1v2h-1zm1 -1h1v1h-1zm1 -2h1v2h-1zm1 -1h9v1h-9zm9 -1h2v1h-2zm2 -1h3v1h-3zm3 1h3v1h-3zm3 1h2v1h-2zm2 1h3v1h-3zm3 1h4v1h-4zm4 1h4v1h-4zm4 -1h3v1h-3zm3 -1h1v1h-1zm1 -1h2v1h-2zm2 -1h1v1h-1zm1 -1h2v1h-2zm2 -1h2v1h-2zm2 -1h1v1h-1zm1 -1h2v1h-2zm2 -1h10v1h-10zm10 1h3v1h-3zm3 -1h1v1h-1zm1 -1h2v1h-2zm2 -1h1v1h-1zm1 -1h1v1h-1zm1 -1h1v1h-1zm1 -1h1v1h-1zm1 -1h1v1h-1zm1 -1h2v1h-2zm2 -1h2v1h-2zm2 1h1v2h-1zm1 2h1v1h-1zm1 1h1v2h-1zm1 2h1v1h-1zm1 1h1v2h-1zm1 2h1v1h-1zm1 1h1v2h-1zm1 2h1v1h-1zm1 1h1v2h-1zm1 2h1v1h-1zm1 1h1v2h-1zm1 2h5v1h-5zm5 1h1v2h-1zm1 2h1v1h-1zm1 1h1v2h-1zm1 2h1v1h-1zm1 1h1v2h-1zm1 2h1v1h-1zm1 1h1v2h-1zm1 2h2v1h-2zm2 -1h12v1h-12zm12 -1h3v1h-3zm3 -1h1v1h-1zm1 -1h1v1h-1zm1 -1h1v1h-1zm1 -1h2v1h-2zm2 -1h3v1h-3zm3 1h2v1h-2zm2 1h2v1h-2zm2 -1h2v1h-2zm2 -1h2v1h-2zm1 -1h1v2h-1zm1 -2h1v2h-1zm1 -2h1v2h-1zm1 -2h1v2h-1zm1 -3h1v3h-1zm1 -3h1v3h-1zm1 -2h1v2h-1zm1 -3h1v3h-1zm1 -2h1v2h-1zm1 -2h1v2h-1zm1 -2h1v2h-1zm1 -2h1v2h-1zm1 -2h1v2h-1zm1 -1h1v1h-1zm1 -2h1v2h-1zm1 -1h1v1h-1zm1 -1h1v1h-1zm1 -2h1v2h-1zm1 -2h1v2h-1zm1 -2h1v2h-1zm1 -1h1v1h-1zm1 -2h1v2h-1zm1 -1h1v1h-1zm1 -2h1v2h-1zm1 -1h1v1h-1zm1 -1h2v1h-2zm2 -1h2v1h-2zm2 -2h1v2h-1zm1 -2h1v2h-1zm1 -2h1v2h-1zm1 -2h1v2h-1zm1 -1h1v1h-1zm1 -2h1v2h-1zm1 -1h1v1h-1zm1 -1h1v1h-1zm1 -1h1v1h-1zm1 -1h2v1h-2zm2 -1h1v1h-1zm1 -1h1v1h-1zm1 -2h1v2h-1zm1 -1h1v1h-1zm1 -1h1v1h-1zm1 -1h1v1h-1zm1 -2h1v2h-1zm1 -1h1v1h-1zm1 -1h1v1h-1zm1 -2h1v2h-1zm1 -2h1v2h-1zm1 -2h1v2h-1zm1 -1h1v1h-1zm1 -1h1v1h-1zm1 -1h1v1h-1zm1 -1h1v1h-1zm1 -1h1v1h-1zm1 1h2v1h-2zm2 1h2v1h-2zm2 1h1v1h-1zm1 1h1v2h-1zm1 2h1v1h-1zm1 1h2v1h-2zm2 -1h15v1h-15zm15 -1h1v1h-1zm1 -1h1v1h-1zm1 -1h1v1h-1zm1 -1h1v1h-1zm1 1h2v1h-2zm2 1h11v1h-11zm11 1h11v1h-11zm11 1h1v1h-1zm1 1h2v1h-2zm2 1h5v1h-5zm5 -1h1v1h-1zm1 -1h2v1h-2zm2 -1h1v1h-1zm1 -1h1v1h-1zm1 -2h1v2h-1zm1 -1h1v1h-1zm1 -1h1v1h-1zm1 -1h2v1h-2zm2 -1h2v1h-2zm2 -1h1v1h-1zm1 -2h1v2h-1zm1 -1h1v1h-1zm1 -1h1v1h-1zm1 -2h1v2h-1zm1 -1h1v1h-1zm1 -2h1v2h-1zm1 -1h2v1h-2zm2 1h4v1h-4zm4 1h3v1h-3zm3 1h2v1h-2zm2 1h2v1h-2zm2 1h1v1h-1zm1 1h1v1h-1zm1 1h1v1h-1zm1 1h1v1h-1zm1 1h1v2h-1zm1 2h1v2h-1zm1 2h1v2h-1zm1 2h1v3h-1zm1 3h1v3h-1zm1 3h1v3h-1zm1 3h1v3h-1zm1 3h1v3h-1zm1 3h1v3h-1zm1 3h1v3h-1zm1 3h1v3h-1zm1 3h1v3h-1zm1 3h1v2h-1zm1 2h1v2h-1zm1 2h1v2h-1zm1 2h1v2h-1zm1 2h1v2h-1zm1 2h1v2h-1zm1 2h1v2h-1zm1 2h1v3h-1zm1 3h1v2h-1zm1 2h1v2h-1zm1 2h1v2h-1zm1 2h1v3h-1zm1 3h1v2h-1zm1 2h1v2h-1zm1 2h1v2h-1zm1 2h1v2h-1zm1 2h1v2h-1zm1 2h1v1h-1zm1 1h1v2h-1zm1 2h1v1h-1zm1 1h1v2h-1zm1 2h1v2h-1zm1 2h1v2h-1zm1 2h1v2h-1zm1 2h1v2h-1zm1 2h1v2h-1zm1 2h1v2h-1zm1 2h1v1h-1zm1 1h1v2h-1zm1 2h1v2h-1zm1 2h1v2h-1zm1 2h1v2h-1zm1 2h1v3h-1zm1 3h1v4h-1zm1 4h1v3h-1zm1 3h1v3h-1zm1 3h1v3h-1zm1 3h1v2h-1zm1 2h1v3h-1zm1 3h1v3h-1zm1 3h1v3h-1zm1 3h1v2h-1zm1 2h1v3h-1zm1 3h1v2h-1zm1 2h1v1h-1zm1 1h1v2h-1zm1 2h1v1h-1zm1 1h1v1h-1zm1 1h1v2h-1zm1 2h1v2h-1zm1 2h1v2h-1zm1 2h1v2h-1zm1 2h1v2h-1zm1 2h1v2h-1zm1 2h1v2h-1zm1 2h1v3h-1zm1 3h1v3h-1zm1 3h1v2h-1zm1 2h1v3h-1zm1 3h1v3h-1zm1 3h1v3h-1zm1 3h1v4h-1zm1 4h1v3h-1zm1 3h1v3h-1zm1 3h1v4h-1zm1 4h1v4h-1zm1 4h1v4h-1zm1 4h1v3h-1zm1 3h1v4h-1zm1 4h1v4h-1zm1 4h1v4h-1zm1 4h1v5h-1zm1 5h1v4h-1zm1 4h1v5h-1zm1 5h1v4h-1zm1 4h1v5h-1zm1 5h1v5h-1zm1 5h1v5h-1zm1 5h1v5h-1zm1 5h1v5h-1zm1 5h1v5h-1zm1 5h1v6h-1zm1 6h1v5h-1zm1 5h1v4h-1zm1 4h1v4h-1zm1 4h1v4h-1zm1 4h1v4h-1zm1 4h1v2h-1zm1 2h1v2h-1zm1 2h1v2h-1zm1 2h1v2h-1zm1 2h1v2h-1zm1 2h1v2h-1zm1 2h1v2h-1zm1 2h1v2h-1zm1 2h1v2h-1zm1 2h1v1h-1zm1 1h1v2h-1zm1 2h1v1h-1zm1 1h1v1h-1zm1 1h1v2h-1zm1 2h1v1h-1zm1 1h1v2h-1zm1 2h1v1h-1zm1 1h1v2h-1zm1 2h1v1h-1zm1 1h1v2h-1zm1 2h1v1h-1zm1 1h1v1h-1zm1 1h1v1h-1zm1 1h1v1h-1zm1 1h1v1h-1zm1 1h1v1h-1zm1 1h1v2h-1zm1 2h1v1h-1zm1 1h1v1h-1zm1 1h1v1h-1zm1 1h2v1h-2zm2 1h1v1h-1zm1 1h2v1h-2zm2 1h2v1h-2zm2 1h1v1h-1zm1 1h1v2h-1zm1 2h1v1h-1zm1 1h1v1h-1zm1 1h2v1h-2zm2 1h3v1h-3zm3 -1h8v1h-8zm8 -1h3v1h-3zm3 -1h1v1h-1zm1 -1h2v1h-2zm2 -1h1v1h-1zm1 -1h1v1h-1zm1 -1h2v1h-2zm2 -1h2v1h-2zm2 -1h3v1h-3zm3 -1h1v1h-1zm1 -2h1v2h-1zm1 -1h1v1h-1zm1 -1h1v1h-1zm1 -2h1v2h-1zm1 -1h1v1h-1zm1 -2h1v2h-1zm1 -1h1v1h-1zm1 -2h1v2h-1zm1 -2h1v2h-1zm1 -2h1v2h-1zm1 -1h1v1h-1zm1 -2h1v2h-1zm1 -2h1v2h-1zm1 -2h1v2h-1zm1 -2h1v2h-1zm1 -2h1v2h-1zm1 -2h1v2h-1zm1 -2h1v2h-1zm1 -2h1v2h-1zm1 -2h1v2h-1zm1 -3h1v3h-1zm1 -2h1v2h-1zm1 -3h1v3h-1zm1 -3h1v3h-1zm1 -2h1v2h-1zm1 -3h1v3h-1zm1 -2h1v2h-1zm1 -2h1v2h-1zm1 -2h1v2h-1zm1 -2h1v2h-1zm1 -1h1v1h-1zm1 -2h1v2h-1zm1 -2h1v2h-1zm1 -2h1v2h-1zm1 -2h1v2h-1zm1 -3h1v3h-1zm1 -2h1v2h-1zm1 -3h1v3h-1zm1 -3h1v3h-1zm1 -4h1v4h-1zm1 -3h1v3h-1zm1 -4h1v4h-1zm1 -2h1v2h-1zm1 -2h1v2h-1zm1 -1h1v1h-1zm1 -2h1v2h-1zm1 -1h1v1h-1zm1 -2h1v2h-1zm1 -1h1v1h-1zm1 -2h1v2h-1zm1 -1h1v1h-1zm1 -1h1v1h-1zm1 -1h1v1h-1zm1 -1h1v1h-1zm1 -1h1v1h-1zm1 -1h2v1h-2zm2 -1h2v1h-2zm2 -1h1v1h-1zm1 -1h1v1h-1zm1 -1h1v1h-1zm1 -2h1v2h-1zm1 -2h1v2h-1zm1 -3h1v3h-1zm1 -2h1v2h-1zm1 -3h1v3h-1zm1 -2h1v2h-1zm1 -2h1v2h-1zm1 -2h1v2h-1zm1 -3h1v3h-1zm1 -2h1v2h-1zm1 -2h1v2h-1zm1 -2h1v2h-1zm1 -2h1v2h-1zm1 -1h1v1h-1zm1 -1h1v1h-1zm1 -1h1v1h-1zm1 -1h1v1h-1zm1 -1h1v1h-1zm1 -2h1v2h-1zm1 -1h1v1h-1zm1 -1h1v1h-1zm1 -2h1v2h-1zm1 -2h1v2h-1zm1 -2h1v2h-1zm1 -1h1v1h-1zm1 -1h1v1h-1zm1 -2h1v2h-1zm1 -1h1v1h-1zm1 -1h1v1h-1zm1 -1h1v1h-1zm1 -1h2v1h-2zm2 -1h2v1h-2zm2 1h3v1h-3zm3 -1h1v1h-1zm1 -1h2v1h-2zm2 -1h1v1h-1zm1 -1h1v1h-1zm1 -1h1v1h-1zm1 -1h1v1h-1zm1 -1h1v1h-1zm1 -1h1v1h-1zm1 -1h1v1h-1zm1 -1h1v1h-1zm1 -1h1v1h-1zm1 -1h1v1h-1zm1 -1h1v1h-1zm1 -1h1v1h-1zm1 -1h1v1h-1zm1 -1h1v1h-1zm1 -1h1v1h-1zm1 -1h1v1h-1zm1 -1h1v1h-1zm1 1h2v1h-2zm2 1h6v1h-6zm6 -1h1v1h-1zm1 -1h2v1h-2zm2 -1h1v1h-1zm1 -1h1v1h-1zm1 -1h1v1h-1zm1 -1h1v1h-1zm1 -1h1v1h-1zm1 1h1v1h-1zm1 1h1v1h-1zm1 1h1v1h-1zm1 1h1v1h-1zm1 1h1v2h-1zm1 2h1v1h-1zm1 1h1v2h-1zm1 2h1v1h-1zm1 1h1v2h-1zm1 2h1v1h-1zm1 1h1v2h-1zm1 2h1v1h-1zm1 1h1v2h-1zm1 2h1v2h-1zm1 2h1v2h-1zm1 2h1v3h-1zm1 3h1v3h-1zm1 3h1v2h-1zm1 2h1v3h-1zm1 3h1v2h-1zm1 2h1v2h-1zm1 2h1v2h-1zm1 2h1v2h-1zm1 2h1v1h-1zm1 1h1v2h-1zm1 2h1v1h-1zm1 1h1v2h-1zm1 2h1v1h-1zm1 1h1v1h-1zm1 1h1v1h-1zm1 1h1v1h-1zm1 1h2v1h-2zm2 1h4v1h-4zm4 1h3v1h-3zm3 1h1v1h-1zm1 1h2v1h-2zm2 1h1v1h-1zm1 1h1v1h-1zm1 1h1v1h-1zm1 1h1v1h-1zm1 1h1v1h-1zm1 1h2v1h-2zm2 1h2v1h-2zm2 1h1v1h-1zm1 1h1v2h-1zm1 2h1v1h-1zm1 1h1v1h-1zm1 -1h2v1h-2zm2 -1h2v1h-2zm2 -1h2v1h-2zm2 -1h2v1h-2zm2 -2h1v2h-1zm1 -1h1v1h-1zm1 -2h1v2h-1zm1 -1h1v1h-1zm1 -1h1v1h-1zm1 -2h1v2h-1zm1 -1h1v1h-1zm1 -2h1v2h-1zm1 -2h1v2h-1zm1 -2h1v2h-1zm1 -2h1v2h-1zm1 -2h1v2h-1zm1 -2h1v2h-1zm1 -1h1v1h-1zm1 -2h1v2h-1zm1 -1h1v1h-1zm1 -1h1v1h-1zm1 -1h2v1h-2zm2 -1h1v1h-1zm1 -1h2v1h-2zm2 -1h3v1h-3zm3 1h3v1h-3zm3 1h1v1h-1zm1 1h2v1h-2zm2 1h1v1h-1zm1 -1h1v1h-1zm1 -1h1v1h-1zm1 -1h1v1h-1zm1 -1h1v1h-1zm1 -1h1v1h-1zm1 -2h1v2h-1zm1 -1h1v1h-1zm1 -1h1v1h-1zm1 -1h2v1h-2zm2 -1h2v1h-2zm2 -1h1v1h-1zm1 -1h1v1h-1zm1 -1h1v1h-1zm1 -1h1v1h-1zm1 -1h1v1h-1zm1 -1h2v1h-2zm2 -1h1v1h-1zm1 -1h1v1h-1zm1 -1h2v1h-2zm2 -1h1v1h-1zm1 -1h1v1h-1zm1 -1h2v1h-2zm2 -1h1v1h-1zm1 -1h2v1h-2zm2 -1h2v1h-2zm2 1h1v2h-1zm1 2h1v1h-1zm1 1h1v2h-1zm1 2h1v1h-1zm1 1h1v2h-1zm1 2h1v1h-1zm1 1h1v2h-1zm1 2h2v1h-2zm2 1h3v1h-3zm3 1h1v1h-1zm1 1h2v1h-2zm2 1h1v1h-1zm1 1h1v1h-1zm1 1h2v1h-2zm2 1h1v1h-1zm1 1h1v2h-1zm1 2h1v1h-1zm1 1h1v2h-1zm1 2h1v2h-1zm1 2h1v3h-1zm1 3h1v2h-1zm1 2h1v3h-1zm1 3h1v3h-1zm1 3h1v3h-1zm1 3h1v3h-1zm1 3h1v3h-1zm1 3h1v3h-1zm1 3h1v4h-1zm1 4h1v3h-1zm1 3h1v4h-1zm1 4h1v3h-1zm1 3h1v4h-1zm1 4h1v4h-1zm1 4h1v4h-1zm1 4h1v3h-1zm1 3h1v3h-1zm1 3h1v4h-1zm1 4h1v3h-1zm1 3h1v3h-1zm1 3h1v4h-1zm1 4h1v4h-1zm1 4h1v4h-1zm1 4h1v4h-1zm1 4h1v4h-1zm1 4h1v4h-1zm1 4h1v4h-1zm1 4h1v4h-1zm1 4h1v3h-1zm1 3h1v4h-1zm1 4h1v3h-1zm1 3h1v2h-1zm1 2h1v2h-1zm1 2h1v2h-1zm1 2h1v2h-1zm1 2h1v1h-1zm1 1h1v2h-1zm1 2h1v2h-1zm1 2h1v2h-1zm1 2h1v1h-1zm1 1h1v1h-1zm1 1h2v1h-2zm2 1h1v1h-1zm1 1h1v1h-1zm1 1h2v1h-2zm2 1h1v1h-1zm1 1h1v1h-1zm1 1h2v1h-2zm2 1h6v1h-6zm6 -1h3v1h-3zm3 -1h2v1h-2zm2 -1h2v1h-2zm2 -1h1v1h-1zm1 -2h1v2h-1zm1 -1h1v1h-1zm1 -1h1v1h-1zm1 -1h1v1h-1zm1 -2h1v2h-1zm1 -1h1v1h-1zm1 -1h1v1h-1zm1 -2h1v2h-1zm1 -2h1v2h-1zm1 -2h1v2h-1zm1 -3h1v3h-1zm1 -2h1v2h-1zm1 -2h1v2h-1zm1 -2h1v2h-1zm1 -3h1v3h-1zm1 -2h1v2h-1zm1 -2h1v2h-1zm1 -2h1v2h-1zm1 -3h1v3h-1zm1 -3h1v3h-1zm1 -2h1v2h-1zm1 -3h1v3h-1zm1 -3h1v3h-1zm1 -3h1v3h-1zm1 -2h1v2h-1zm1 -3h1v3h-1zm1 -3h1v3h-1zm1 -3h1v3h-1zm1 -2h1v2h-1zm1 -3h1v3h-1zm1 -2h1v2h-1zm1 -1h2v1h-2zm2 -1h2v1h-2zm2 -2h1v2h-1zm1 -1h1v1h-1zm1 -2h1v2h-1zm1 -1h1v1h-1zm1 -1h1v1h-1zm1 -1h1v1h-1zm1 -1h1v1h-1zm1 -1h1v1h-1zm1 -1h1v1h-1zm1 -2h1v2h-1zm1 -1h1v1h-1zm1 -2h1v2h-1zm1 -2h1v2h-1zm1 -3h1v3h-1zm1 -2h1v2h-1zm1 -2h1v2h-1zm1 -2h1v2h-1zm1 -2h1v2h-1zm1 -2h1v2h-1zm1 -1h1v1h-1zm1 -2h1v2h-1zm1 -2h1v2h-1zm1 -2h1v2h-1zm1 -1h1v1h-1zm1 -2h1v2h-1zm1 -2h1v2h-1zm1 -2h1v2h-1zm1 -1h1v1h-1zm1 -2h1v2h-1zm1 -1h1v1h-1zm1 -2h1v2h-1zm1 -1h1v1h-1zm1 -1h1v1h-1zm1 -1h1v1h-1zm1 -1h1v1h-1zm1 -1h1v1h-1zm1 -1h1v1h-1zm1 -1h1v1h-1zm1 -1h1v1h-1zm1 -1h1v1h-1zm1 -1h1v1h-1zm1 -1h1v1h-1zm1 -1h1v1h-1zm1 -1h1v1h-1zm1 -1h2v1h-2zm2 -1h3v1h-3zm3 -1h3v1h-3zm3 -2h1v2h-1zm1 -1h1v1h-1zm1 -2h1v2h-1zm1 -1h1v1h-1zm1 -1h1v1h-1zm1 -1h2v1h-2zm2 -1h2v1h-2zm2 -1h3v1h-3zm3 1h2v1h-2zm2 1h2v1h-2zm2 1h2v1h-2zm2 1h2v1h-2zm2 1h2v1h-2zm2 1h2v1h-2zm2 1h1v1h-1zm1 1h1v1h-1zm1 1h1v1h-1zm1 1h1v1h-1zm1 1h1v1h-1zm1 1h2v1h-2zm2 1h1v1h-1zm1 1h1v2h-1zm1 2h1v1h-1zm1 1h1v2h-1zm1 2h1v1h-1zm1 1h1v2h-1zm1 2h1v1h-1zm1 1h1v2h-1zm1 2h1v1h-1zm1 1h1v1h-1zm1 1h1v2h-1zm1 2h1v1h-1zm1 1h1v1h-1zm1 1h1v2h-1zm1 2h1v2h-1zm1 2h1v2h-1zm1 2h1v1h-1zm1 1h1v2h-1zm1 2h1v2h-1zm1 2h1v2h-1zm1 2h1v2h-1zm1 2h1v2h-1zm1 2h1v2h-1zm1 2h1v2h-1zm1 2h1v2h-1zm1 2h1v3h-1zm1 3h1v3h-1zm1 3h1v3h-1zm1 3h1v3h-1zm1 3h1v2h-1zm1 2h1v3h-1zm1 3h1v2h-1zm1 2h1v2h-1zm1 2h1v1h-1zm1 1h1v1h-1zm1 1h1v1h-1zm1 1h2v1h-2zm2 1h3v1h-3zm3 1h1v2h-1zm1 2h1v1h-1zm1 1h1v2h-1zm1 2h1v1h-1zm1 1h1v2h-1zm1 2h1v1h-1zm1 1h1v2h-1zm1 2h1v1h-1zm1 1h1v1h-1zm1 1h2v1h-2zm2 1h1v1h-1zm1 1h1v2h-1zm1 2h1v2h-1zm1 2h1v2h-1zm1 2h1v1h-1zm1 1h1v2h-1zm1 2h1v2h-1zm1 2h1v2h-1zm1 2h1v2h-1zm1 2h1v2h-1zm1 2h1v2h-1zm1 2h1v2h-1zm1 2h1v2h-1zm1 2h1v2h-1zm1 2h1v2h-1zm1 2h1v2h-1zm1 2h1v3h-1zm1 3h1v3h-1zm1 3h1v4h-1zm1 4h1v3h-1zm1 3h1v3h-1zm1 3h1v3h-1zm1 3h1v2h-1zm1 2h1v3h-1zm1 3h1v3h-1zm1 3h1v2h-1zm1 2h1v3h-1zm1 3h1v2h-1zm1 2h1v3h-1zm1 3h1v2h-1zm1 2h1v2h-1zm1 2h1v2h-1zm1 2h1v2h-1zm1 2h1v2h-1zm1 2h1v2h-1zm1 2h1v2h-1zm1 2h1v3h-1zm1 3h1v3h-1zm1 3h1v3h-1zm1 3h1v3h-1zm1 3h1v3h-1zm1 3h1v2h-1zm1 2h1v2h-1zm1 2h1v2h-1zm1 2h1v2h-1zm1 2h1v2h-1zm1 2h1v2h-1zm1 2h1v2h-1zm1 2h1v2h-1zm1 2h1v1h-1zm1 1h1v1h-1zm1 1h1v1h-1zm1 1h1v1h-1zm1 1h1v2h-1zm1 2h1v2h-1zm1 2h1v2h-1zm1 2h1v1h-1zm1 1h1v1h-1zm1 1h1v1h-1zm1 1h1v1h-1zm1 1h1v1h-1zm1 1h2v1h-2zm2 1h7v1h-7zm7 1h3v1h-3zm3 -1h1v1h-1zm1 -2h1v2h-1zm1 -1h1v1h-1zm1 -1h1v1h-1zm1 -1h1v1h-1zm1 -1h1v1h-1zm1 -1h1v1h-1zm1 -1h1v1h-1zm1 -1h1v1h-1zm1 -2h1v2h-1zm1 -1h1v1h-1zm1 -1h1v1h-1zm1 -1h1v1h-1zm1 -2h1v2h-1zm1 -1h1v1h-1zm1 -1h1v1h-1zm1 -1h1v1h-1zm1 -1h1v1h-1zm1 -1h1v1h-1zm1 -2h1v2h-1zm1 -2h1v2h-1zm1 -2h1v2h-1zm1 -2h1v2h-1zm1 -2h1v2h-1zm1 -2h1v2h-1zm1 -2h1v2h-1zm1 -2h1v2h-1zm1 -2h1v2h-1zm1 -2h1v2h-1zm1 -1h1v1h-1zm1 -2h1v2h-1zm1 -1h1v1h-1zm1 -1h1v1h-1zm1 -1h2v1h-2zm2 -1h1v1h-1zm1 -2h1v2h-1zm1 -2h1v2h-1zm1 -2h1v2h-1zm1 -2h1v2h-1zm1 -2h1v2h-1zm1 -2h1v2h-1zm1 -2h1v2h-1zm1 -2h1v2h-1zm1 -2h1v2h-1zm1 -3h1v3h-1zm1 -2h1v2h-1zm1 -3h1v3h-1zm1 -2h1v2h-1zm1 -2h1v2h-1zm1 -2h1v2h-1zm1 -3h1v3h-1zm1 -3h1v3h-1zm1 -2h1v2h-1zm1 -3h1v3h-1zm1 -3h1v3h-1zm1 -3h1v3h-1zm1 -3h1v3h-1zm1 -3h1v3h-1zm1 -3h1v3h-1zm1 -3h1v3h-1zm1 -4h1v4h-1zm1 -3h1v3h-1zm1 -3h1v3h-1zm1 -3h1v3h-1zm1 -4h1v4h-1zm1 -3h1v3h-1zm1 -3h1v3h-1zm1 -4h1v4h-1zm1 -3h1v3h-1zm1 -4h1v4h-1zm1 -3h1v3h-1zm1 -4h1v4h-1zm1 -4h1v4h-1zm1 -4h1v4h-1zm1 -3h1v3h-1zm1 -3h1v3h-1zm1 -2h1v2h-1zm1 -3h1v3h-1zm1 -3h1v3h-1zm1 -2h1v2h-1zm1 -2h1v2h-1zm1 -2h1v2h-1zm1 -3h1v3h-1zm1 -3h1v3h-1zm1 -2h1v2h-1zm1 -3h1v3h-1zm1 -3h1v3h-1zm1 -2h1v2h-1zm1 -2h1v2h-1zm1 -2h1v2h-1zm1 -2h1v2h-1zm1 -1h1v1h-1zm1 -2h1v2h-1zm1 -1h1v1h-1zm1 -1h1v1h-1zm1 -1h1v1h-1zm1 -1h1v1h-1zm1 -1h1v1h-1zm1 -1h1v1h-1zm1 -1h1v1h-1zm1 -1h1v1h-1zm1 -1h1v1h-1zm1 -1h2v1h-2zm2 -1h4v1h-4zm4 -1h4v1h-4zm4 -1h4v1h-4zm4 1h3v1h-3zm3 1h1v1h-1zm1 1h2v1h-2zm2 1h1v1h-1zm1 1h1v1h-1zm1 1h1v1h-1zm1 1h1v1h-1zm1 1h1v1h-1zm1 1h1v2h-1zm1 2h1v1h-1zm1 1h1v2h-1zm1 2h1v1h-1zm1 1h2v1h-2zm2 1h6v1h-6zm6 1h2v1h-2zm2 1h2v1h-2z" fill="#ff0000"/>
<path d="M0 0m1 300h1v1h-1zm1 1h1v1h-1zm1 1h1v2h-1zm1 2h1v1h-1zm1 1h1v1h-1zm1 -1h1v1h-1zm1 -1h1v1h-1zm1 -1h1v1h-1zm1 -1h1v1h-1zm1 -2h1v2h-1zm1 -1h1v1h-1zm1 -2h2v1h-2zm0 0h1v2h-1zm1 -1h1v2h-1zm1 2h1v3h-1zm1 3h1v3h-1zm1 3h1v3h-1zm1 3h1v2h-1zm1 2h2v1h-2zm2 1h2v1h-2zm2 -1h1v1h-1zm1 -2h1v2h-1zm1 -1h2v1h-2zm1 -1h1v4h-1zm1 4h1v6h-1zm1 6h1v7h-1zm1 7h1v6h-1zm1 6h1v5h-1zm1 5h1v4h-1zm1 4h1v4h-1zm1 4h1v4h-1zm1 4h1v4h-1zm1 4h1v3h-1zm1 3h1v3h-1zm1 3h1v3h-1zm1 3h1v4h-1zm1 4h1v4h-1zm1 4h1v5h-1zm1 5h1v4h-1zm1 4h1v4h-1zm1 4h1v4h-1zm1 4h1v3h-1zm1 3h1v4h-1zm1 4h2v1h-2zm0 0h1v2h-1zm2 -2h1v2h-1zm1 -1h1v1h-1zm1 -1h1v1h-1zm1 1h1v2h-1zm1 2h1v2h-1zm1 2h1v2h-1zm1 2h1v1h-1zm1 1h1v1h-1zm1 1h1v1h-1zm1 1h2v1h-2zm1 -1h1v3h-1zm1 -5h1v5h-1zm1 -4h1v4h-1zm1 -5h1v5h-1zm1 -5h1v5h-1zm1 -5h1v5h-1zm1 -6h1v6h-1zm1 -5h1v5h-1zm1 -5h1v5h-1zm1 -6h1v6h-1zm1 -5h1v5h-1zm1 -6h1v6h-1zm1 -7h1v7h-1zm1 -8h1v8h-1zm1 -9h1v9h-1zm1 -8h1v8h-1zm1 -10h1v10h-1zm1 -11h1v11h-1zm1 -11h1v11h-1zm1 -11h1v11h-1zm1 -10h1v10h-1zm1 -8h1v8h-1zm1 -8h1v8h-1zm1 -8h1v8h-1zm1 -7h1v7h-1zm1 -6h1v6h-1zm1 -6h1v6h-1zm1 -6h1v6h-1zm1 -4h1v4h-1zm1 -4h1v4h-1zm1 -4h1v4h-1zm1 -4h1v4h-1zm1 -3h1v3h-1zm1 -3h1v3h-1zm1 -3h1v3h-1zm1 -3h1v3h-1zm1 -2h1v2h-1zm0 1h2v1h-2zm1 0h1v2h-1zm1 2h1v2h-1zm1 2h1v2h-1zm1 2h1v3h-1zm1 3h1v5h-1zm1 5h1v5h-1zm1 5h1v5h-1zm1 5h1v5h-1zm1 5h1v5h-1zm1 5h1v5h-1zm1 5h1v5h-1zm1 5h1v4h-1zm1 4h1v3h-1zm1 3h1v4h-1zm1 4h1v3h-1zm1 3h1v3h-1zm1 3h1v3h-1zm1 3h1v3h-1zm1 3h1v3h-1zm1 3h1v2h-1zm1 2h1v2h-1zm1 2h1v1h-1zm1 1h1v2h-1zm1 2h1v1h-1zm1 1h1v1h-1zm1 1h1v1h-1zm1 1h1v1h-1zm1 1h1v1h-1zm1 -1h2v1h-2zm2 -1h2v1h-2zm2 -1h1v1h-1zm1 -2h1v2h-1zm1 -1h1v1h-1zm1 -2h1v2h-1zm1 -3h1v3h-1zm1 -2h1v2h-1zm1 -3h1v3h-1zm1 -3h1v3h-1zm1 -3h1v3h-1zm1 -3h1v3h-1zm1 -3h1v3h-1zm1 -4h1v4h-1zm1 -5h1v5h-1zm1 -6h1v6h-1zm1 -5h1v5h-1zm1 -4h1v4h-1zm1 -3h1v3h-1zm1 -2h1v2h-1zm1 -3h1v3h-1zm1 -3h1v3h-1zm1 -3h1v3h-1zm1 -2h1v2h-1zm1 -3h1v3h-1zm1 -2h1v2h-1zm1 -1h1v1h-1zm1 -1h3v1h-3zm2 -1h1v2h-1zm1 2h1v2h-1zm1 2h1v3h-1zm1 3h1v2h-1zm1 2h1v3h-1zm1 3h1v3h-1zm1 3h1v2h-1zm1 2h1v3h-1zm1 3h1v2h-1zm1 2h1v2h-1zm1 2h1v2h-1zm1 2h1v2h-1zm1 2h1v3h-1zm1 3h1v3h-1zm1 3h1v4h-1zm1 4h1v3h-1zm1 3h1v4h-1zm1 4h1v5h-1zm1 5h1v4h-1zm1 4h1v5h-1zm1 5h1v3h-1zm0 2h2v1h-2zm2 1h3v1h-3zm3 -2h1v2h-1zm1 -2h1v2h-1zm1 -2h1v2h-1zm1 -1h1v1h-1zm1 -2h1v2h-1zm1 -2h1v2h-1zm1 -2h1v2h-1zm1 -2h1v2h-1zm0 1h2v1h-2zm1 0h1v2h-1zm1 2h1v2h-1zm1 2h1v2h-1zm1 2h2v1h-2zm2 -1h3v1h-3zm3 1h1v2h-1zm1 2h1v1h-1zm1 1h1v2h-1zm1 2h1v1h-1zm1 1h2v1h-2zm2 1h2v1h-2zm1 0h1v2h-1zm1 2h1v2h-1zm1 2h1v2h-1zm1 2h1v2h-1zm1 2h2v1h-2zm0 0h1v2h-1zm2 -1h2v1h-2zm2 -2h1v2h-1zm1 -2h1v2h-1zm1 -2h1v2h-1zm1 -2h1v2h-1zm1 -2h1v2h-1zm1 -1h1v1h-1zm1 -1h1v1h-1zm1 -1h1v1h-1zm1 -1h1v1h-1zm1 1h1v1h-1zm1 1h1v2h-1zm1 2h1v1h-1zm1 1h1v1h-1zm1 -2h1v2h-1zm1 -2h1v2h-1zm1 -2h1v2h-1zm1 -1h1v1h-1zm1 -2h1v2h-1zm1 -1h1v1h-1zm1 -2h1v2h-1zm1 -1h1v1h-1zm1 -1h2v1h-2zm2 -1h3v1h-3zm3 -1h3v1h-3zm2 -1h1v2h-1zm1 -3h1v3h-1zm1 -4h1v4h-1zm1 -3h1v3h-1zm1 -3h1v3h-1zm1 -4h1v4h-1zm1 -4h1v4h-1zm1 -4h1v4h-1zm1 -4h1v4h-1zm1 -5h1v5h-1zm1 -6h1v6h-1zm1 -5h1v5h-1zm1 -4h1v4h-1zm1 -3h1v3h-1zm1 -4h1v4h-1zm1 -3h1v3h-1zm1 -4h1v4h-1zm1 -5h1v5h-1zm1 -4h1v4h-1zm1 -5h1v5h-1zm1 -3h1v3h-1zm1 -1h1v1h-1zm1 -1h1v1h-1zm1 -1h1v1h-1zm1 -1h1v1h-1zm1 1h1v2h-1zm1 2h1v1h-1zm1 1h1v2h-1zm1 2h1v2h-1zm1 2h1v4h-1zm1 4h1v3h-1zm1 3h1v4h-1zm1 4h3v1h-3zm0 0h1v2h-1zm3 -1h2v1h-2zm2 1h1v1h-1zm1 1h1v2h-1zm1 2h1v1h-1zm1 1h1v1h-1zm1 1h1v1h-1zm1 1h2v1h-2zm2 1h1v1h-1zm1 -1h1v1h-1zm1 -1h2v1h-2zm2 -2h1v2h-1zm1 -2h1v2h-1zm1 -2h1v2h-1zm1 -2h1v2h-1zm1 -2h1v2h-1zm0 1h3v1h-3zm3 1h2v1h-2zm1 -1h1v2h-1zm1 -2h1v2h-1zm1 -3h1v3h-1zm1 -2h1v2h-1zm1 -2h5v1h-5zm0 0h1v2h-1zm5 1h1v1h-1zm1 1h1v1h-1zm1 1h1v1h-1zm1 1h2v1h-2zm2 1h3v1h-3zm3 -1h2v1h-2zm2 -1h2v1h-2zm1 0h1v2h-1zm1 2h1v2h-1zm1 2h1v2h-1zm1 2h1v2h-1zm1 2h1v2h-1zm0 1h2v1h-2zm2 -1h3v1h-3zm2 -1h1v2h-1zm1 -2h1v2h-1zm1 -2h1v2h-1zm1 -2h1v2h-1zm1 -2h1v2h-1zm0 1h2v1h-2zm2 1h1v1h-1zm1 1h1v1h-1zm1 1h1v1h-1zm1 1h1v1h-1zm1 1h1v1h-1zm1 1h1v1h-1zm1 1h1v1h-1zm1 1h2v1h-2zm2 1h2v1h-2zm2 1h2v1h-2zm2 1h3v1h-3zm3 1h3v1h-3zm3 -1h2v1h-2zm2 -1h6v1h-6zm6 -1h2v1h-2zm2 -1h2v1h-2zm2 -2h1v2h-1zm1 -2h1v2h-1zm1 -2h1v2h-1zm1 -3h1v3h-1zm1 -3h1v3h-1zm1 -2h1v2h-1zm1 -3h1v3h-1zm1 -3h1v3h-1zm1 -2h1v2h-1zm1 -3h1v3h-1zm1 -2h1v2h-1zm1 -3h1v3h-1zm1 -4h1v4h-1zm1 -3h1v3h-1zm1 -4h1v4h-1zm1 -3h1v3h-1zm1 -4h1v4h-1zm1 -3h1v3h-1zm1 -4h1v4h-1zm1 -2h5v1h-5zm0 0h1v2h-1zm4 0h1v3h-1zm1 3h1v5h-1zm1 5h1v5h-1zm1 5h1v5h-1zm1 5h1v5h-1zm1 5h1v4h-1zm1 4h1v4h-1zm1 4h1v4h-1zm1 4h1v6h-1zm1 6h1v6h-1zm1 6h1v7h-1zm1 7h1v6h-1zm1 6h1v8h-1zm1 8h1v10h-1zm1 10h1v10h-1zm1 10h1v10h-1zm1 10h1v10h-1zm1 10h1v8h-1zm1 8h1v9h-1zm1 9h1v8h-1zm1 8h1v8h-1zm1 8h1v7h-1zm1 7h1v6h-1zm1 6h1v7h-1zm1 7h1v6h-1zm1 6h1v5h-1zm1 5h1v5h-1zm1 5h1v5h-1zm1 5h1v4h-1zm1 4h1v3h-1zm1 3h1v4h-1zm1 4h1v3h-1zm1 3h2v1h-2zm0 0h1v2h-1zm1 -1h1v2h-1zm1 -2h1v2h-1zm1 -2h1v2h-1zm1 -4h1v4h-1zm1 -5h1v5h-1zm1 -4h1v4h-1zm1 -5h1v5h-1zm1 -6h1v6h-1zm1 -7h1v7h-1zm1 -6h1v6h-1zm1 -7h1v7h-1zm1 -6h1v6h-1zm1 -4h1v4h-1zm1 -5h1v5h-1zm1 -4h1v4h-1zm1 -4h1v4h-1zm1 -4h1v4h-1zm1 -4h1v4h-1zm1 -4h1v4h-1zm1 -3h1v3h-1zm1 -1h1v1h-1zm1 -2h1v2h-1zm1 -1h2v1h-2zm1 -1h1v4h-1zm1 4h1v8h-1zm1 8h1v7h-1zm1 7h1v8h-1zm1 8h1v8h-1zm1 8h1v8h-1zm1 8h1v9h-1zm1 9h1v8h-1zm1 8h1v8h-1zm1 8h1v8h-1zm1 8h1v8h-1zm1 8h1v8h-1zm1 8h1v9h-1zm1 9h1v8h-1zm1 8h1v9h-1zm1 9h1v8h-1zm1 8h1v9h-1zm1 9h1v8h-1zm1 8h1v9h-1zm1 9h1v8h-1zm1 8h1v7h-1zm1 7h1v4h-1zm1 4h1v4h-1zm1 4h1v4h-1zm1 4h1v5h-1zm1 5h1v4h-1zm1 4h1v5h-1zm1 5h1v4h-1zm1 4h1v5h-1zm1 5h1v5h-1zm1 5h1v4h-1zm1 4h1v5h-1zm1 5h1v5h-1zm1 5h1v5h-1zm1 5h1v6h-1zm1 6h1v5h-1zm1 5h1v3h-1zm1 3h1v2h-1zm1 2h1v1h-1zm1 1h1v2h-1zm1 2h2v1h-2zm2 -1h3v1h-3zm3 1h1v2h-1zm1 2h1v2h-1zm1 2h1v2h-1zm1 2h1v2h-1zm1 2h1v2h-1zm1 2h1v1h-1zm1 1h1v2h-1zm1 2h1v1h-1zm1 -1h1v1h-1zm1 -2h1v2h-1zm1 -1h1v1h-1zm1 -1h1v1h-1zm1 1h1v2h-1zm1 2h1v2h-1zm1 2h1v2h-1zm1 2h1v1h-1zm1 1h1v1h-1zm1 1h1v2h-1zm1 2h2v1h-2zm1 0h1v2h-1zm1 -2h1v2h-1zm1 -2h1v2h-1zm1 -2h1v2h-1zm1 -2h1v2h-1zm1 -2h1v2h-1zm1 -2h1v2h-1zm1 -2h1v2h-1zm1 -2h1v2h-1zm0 1h2v1h-2zm1 0h1v2h-1zm1 2h1v1h-1zm1 1h1v2h-1zm1 2h1v1h-1zm1 1h1v2h-1zm1 2h1v2h-1zm1 2h1v2h-1zm1 2h1v2h-1zm1 2h1v2h-1zm1 2h1v3h-1zm1 3h1v2h-1zm1 2h1v3h-1zm1 3h1v4h-1zm1 4h1v4h-1zm1 4h1v4h-1zm1 4h1v3h-1zm1 3h1v2h-1zm1 2h1v3h-1zm1 3h1v2h-1zm1 2h1v2h-1zm1 2h1v1h-1zm1 1h1v2h-1zm1 2h1v1h-1zm1 1h1v1h-1zm1 -2h1v2h-1zm1 -2h1v2h-1zm1 -2h1v2h-1zm1 -3h1v3h-1zm1 -2h1v2h-1zm1 -2h1v2h-1zm1 -2h1v2h-1zm1 -2h1v2h-1zm1 -1h1v1h-1zm1 -1h1v1h-1zm1 -1h1v1h-1zm1 -2h1v2h-1zm1 -3h1v3h-1zm1 -3h1v3h-1zm1 -3h1v3h-1zm1 -4h1v4h-1zm1 -4h1v4h-1zm1 -4h1v4h-1zm1 -4h1v4h-1zm1 -3h1v3h-1zm1 -2h1v2h-1zm1 -2h1v2h-1zm1 -2h1v2h-1zm1 -3h1v3h-1zm1 -2h1v2h-1zm1 -3h1v3h-1zm1 -2h1v2h-1zm1 -4h1v4h-1zm1 -6h1v6h-1zm1 -5h1v5h-1zm1 -6h1v6h-1zm1 -4h1v4h-1zm1 -2h1v2h-1zm1 -3h1v3h-1zm1 -2h1v2h-1zm1 -2h1v2h-1zm1 -1h2v1h-2zm2 -1h2v1h-2zm2 -2h1v2h-1zm1 -1h1v1h-1zm1 -2h1v2h-1zm1 -1h2v1h-2zm2 1h3v1h-3zm3 -1h1v1h-1zm1 -1h2v1h-2zm2 -1h1v1h-1zm1 -2h1v2h-1zm1 -2h1v2h-1zm1 -2h1v2h-1zm1 -3h1v3h-1zm1 -2h1v2h-1zm1 -3h1v3h-1zm1 -2h1v2h-1zm1 -2h1v2h-1zm1 -1h1v1h-1zm1 -2h1v2h-1zm1 -1h1v1h-1zm1 -3h1v3h-1zm1 -5h1v5h-1zm1 -4h1v4h-1zm1 -5h1v5h-1zm1 -5h1v5h-1zm1 -5h1v5h-1zm1 -6h1v6h-1zm1 -5h1v5h-1zm1 -3h1v3h-1zm1 -1h1v1h-1zm1 -1h1v1h-1zm1 -1h1v1h-1zm1 -1h1v1h-1zm1 -1h1v1h-1zm1 -1h2v1h-2zm2 -1h1v1h-1zm1 -1h1v1h-1zm1 -1h2v1h-2zm2 -1h1v1h-1zm1 1h1v1h-1zm1 1h1v1h-1zm1 1h1v1h-1zm1 1h1v3h-1zm1 3h1v4h-1zm1 4h1v5h-1zm1 5h1v4h-1zm1 4h1v3h-1zm1 -2h1v3h-1zm1 -4h1v4h-1zm1 -3h1v3h-1zm1 -4h1v4h-1zm1 -4h1v4h-1zm1 -4h1v4h-1zm1 -4h1v4h-1zm1 -4h1v4h-1zm1 -3h1v3h-1zm1 -2h1v2h-1zm1 -3h1v3h-1zm1 -2h1v2h-1zm1 -2h1v2h-1zm1 -2h1v2h-1zm1 -2h1v2h-1zm1 -2h1v2h-1zm1 -4h1v4h-1zm1 -3h1v3h-1zm1 -4h1v4h-1zm1 -2h1v2h-1zm1 -1h2v1h-2zm2 -1h2v1h-2zm2 1h1v2h-1zm1 2h1v2h-1zm1 2h1v2h-1zm1 2h2v1h-2zm0 0h1v2h-1zm2 -1h2v1h-2zm2 -1h1v1h-1zm1 -2h1v2h-1zm1 -2h1v2h-1zm1 -2h1v2h-1zm1 -2h1v2h-1zm0 1h3v1h-3zm3 1h2v1h-2zm2 1h1v2h-1zm1 2h1v2h-1zm1 2h1v2h-1zm1 2h1v2h-1zm0 1h9v1h-9zm9 1h1v1h-1zm1 1h1v1h-1zm1 1h1v1h-1zm1 1h2v1h-2zm2 1h3v1h-3zm3 -2h1v2h-1zm1 -1h1v1h-1zm1 -2h1v2h-1zm1 -1h1v1h-1zm1 -2h1v2h-1zm1 -2h1v2h-1zm1 -2h1v2h-1zm1 -2h1v2h-1zm1 -2h1v2h-1zm1 -1h1v1h-1zm1 -2h1v2h-1zm1 -1h1v1h-1zm1 1h1v2h-1zm1 2h1v2h-1zm1 2h1v2h-1zm1 2h1v3h-1zm1 3h1v2h-1zm1 2h1v2h-1zm1 2h1v2h-1zm1 2h1v5h-1zm1 5h1v6h-1zm1 6h1v7h-1zm1 7h1v6h-1zm1 6h1v6h-1zm1 6h1v6h-1zm1 6h1v6h-1zm1 6h1v6h-1zm1 6h1v8h-1zm1 8h1v8h-1zm1 8h1v8h-1zm1 8h1v8h-1zm1 8h1v6h-1zm1 6h1v4h-1zm1 4h1v3h-1zm1 3h1v4h-1zm1 4h1v2h-1zm1 2h1v2h-1zm1 2h1v2h-1zm1 2h1v2h-1zm1 2h1v1h-1zm1 -2h1v2h-1zm1 -2h1v2h-1zm1 -2h1v2h-1zm1 -2h1v2h-1zm1 -4h1v4h-1zm1 -4h1v4h-1zm1 -4h1v4h-1zm1 -6h1v6h-1zm1 -6h1v6h-1zm1 -6h1v6h-1zm1 -6h1v6h-1zm1 -5h1v5h-1zm1 -3h1v3h-1zm1 -3h1v3h-1zm1 -3h1v3h-1zm1 -3h1v3h-1zm1 -2h1v2h-1zm1 -2h1v2h-1zm1 -2h1v2h-1zm1 -3h1v3h-1zm1 -3h1v3h-1zm1 -4h1v4h-1zm1 -3h1v3h-1zm1 -2h2v1h-2zm0 0h1v2h-1zm2 1h3v1h-3zm3 1h1v1h-1zm1 1h2v1h-2zm2 1h1v1h-1zm1 -2h1v2h-1zm1 -2h1v2h-1zm1 -2h1v2h-1zm1 -1h1v1h-1zm1 -1h1v1h-1zm1 -1h2v1h-2zm2 -1h1v1h-1zm1 1h1v1h-1zm1 1h1v2h-1zm1 2h1v1h-1zm1 1h1v1h-1zm1 -1h1v1h-1zm1 -1h2v1h-2zm2 -1h5v1h-5zm5 1h1v1h-1zm1 1h1v1h-1zm1 1h1v1h-1zm1 1h1v1h-1zm1 1h1v1h-1zm1 1h1v2h-1zm1 2h1v1h-1zm1 1h2v1h-2zm2 1h3v1h-3zm3 1h1v2h-1zm1 2h1v2h-1zm1 2h1v2h-1zm1 2h2v1h-2zm0 0h1v2h-1zm1 -1h1v2h-1zm1 -2h1v2h-1zm1 -2h1v2h-1zm1 -2h1v2h-1zm1 -3h1v3h-1zm1 -3h1v3h-1zm1 -3h1v3h-1zm1 -3h1v3h-1zm1 -4h1v4h-1zm1 -4h1v4h-1zm1 -4h1v4h-1zm1 -3h1v3h-1zm1 -4h1v4h-1zm1 -3h1v3h-1zm1 -4h1v4h-1zm1 -3h1v3h-1zm1 -3h1v3h-1zm1 -3h1v3h-1zm1 -3h1v3h-1zm1 -2h1v2h-1zm1 -1h1v1h-1zm1 -1h2v1h-2zm2 -1h2v1h-2zm2 -1h3v1h-3zm2 0h1v2h-1zm1 2h1v2h-1zm1 2h1v3h-1zm1 3h1v2h-1zm1 2h1v4h-1zm1 4h1v6h-1zm1 6h1v6h-1zm1 6h1v6h-1zm1 6h1v6h-1zm1 6h1v5h-1zm1 5h1v6h-1zm1 6h1v5h-1zm1 5h1v5h-1zm1 5h1v4h-1zm1 4h1v4h-1zm1 4h1v4h-1zm1 4h1v5h-1zm1 5h1v6h-1zm1 6h1v5h-1zm1 5h1v6h-1zm1 6h1v4h-1zm1 4h1v4h-1zm1 4h1v3h-1zm1 3h1v4h-1zm1 4h1v2h-1zm1 2h1v2h-1zm1 2h1v2h-1zm1 2h1v2h-1zm1 2h1v2h-1zm1 2h1v2h-1zm1 2h1v2h-1zm1 2h1v2h-1zm1 2h1v4h-1zm1 4h1v5h-1zm1 5h1v5h-1zm1 5h1v5h-1zm1 5h1v5h-1zm1 5h1v4h-1zm1 4h1v4h-1zm1 4h1v4h-1zm1 4h1v5h-1zm1 5h1v4h-1zm1 4h1v5h-1zm1 5h1v4h-1zm1 4h1v3h-1zm1 3h1v2h-1zm1 2h1v2h-1zm1 2h1v2h-1zm1 2h1v3h-1zm1 3h1v2h-1zm1 2h1v2h-1zm1 2h1v2h-1zm1 2h1v3h-1zm1 3h1v2h-1zm1 2h1v3h-1zm1 3h1v2h-1zm1 2h1v2h-1zm1 2h1v2h-1zm1 2h1v2h-1zm1 2h1v2h-1zm1 2h1v1h-1zm1 1h1v1h-1zm1 1h1v1h-1zm1 1h1v1h-1zm1 1h2v1h-2zm2 1h3v1h-3zm2 -2h1v3h-1zm1 -4h1v4h-1zm1 -4h1v4h-1zm1 -4h1v4h-1zm1 -4h1v4h-1zm1 -3h1v3h-1zm1 -4h1v4h-1zm1 -3h1v3h-1zm1 -3h1v3h-1zm1 -4h1v4h-1zm1 -4h1v4h-1zm1 -4h1v4h-1zm1 -3h1v3h-1zm1 -4h1v4h-1zm1 -3h1v3h-1zm1 -4h1v4h-1zm1 -3h1v3h-1zm1 -3h1v3h-1zm1 -2h1v2h-1zm1 -3h1v3h-1zm1 -2h1v2h-1zm0 1h2v1h-2zm2 1h1v1h-1zm1 1h1v1h-1zm1 1h1v1h-1zm1 -2h1v2h-1zm1 -1h1v1h-1zm1 -2h1v2h-1zm1 -1h1v1h-1zm1 -1h1v1h-1zm1 -2h1v2h-1zm1 -1h1v1h-1zm1 -2h1v2h-1zm1 -3h1v3h-1zm1 -3h1v3h-1zm1 -3h1v3h-1zm1 -3h1v3h-1zm1 -4h1v4h-1zm1 -4h1v4h-1zm1 -4h1v4h-1zm1 -3h1v3h-1zm1 -2h1v2h-1zm1 -2h1v2h-1zm1 -2h1v2h-1zm1 -3h1v3h-1zm1 -2h1v2h-1zm1 -2h1v2h-1zm1 -2h1v2h-1zm1 -3h1v3h-1zm1 -3h1v3h-1zm1 -3h1v3h-1zm1 -3h1v3h-1zm1 -2h1v2h-1zm1 -2h1v2h-1zm1 -2h1v2h-1zm1 -2h1v2h-1zm1 -1h2v1h-2zm2 1h3v1h-3zm3 -1h1v1h-1zm1 -1h2v1h-2zm2 -1h1v1h-1zm1 1h2v1h-2zm2 1h2v1h-2zm2 1h1v1h-1zm1 1h2v1h-2zm2 1h1v1h-1zm1 -2h1v2h-1zm1 -2h1v2h-1zm1 -2h1v2h-1zm1 -2h1v2h-1zm1 -2h1v2h-1zm1 -3h1v3h-1zm1 -2h1v2h-1zm1 -3h1v3h-1zm1 -2h1v2h-1zm1 -3h1v3h-1zm1 -2h1v2h-1zm1 -3h1v3h-1zm1 -3h1v3h-1zm1 -4h1v4h-1zm1 -3h1v3h-1zm1 -3h1v3h-1zm1 -4h1v4h-1zm1 -4h1v4h-1zm1 -4h1v4h-1zm1 -2h2v1h-2zm0 0h1v2h-1zm2 1h11v1h-11zm11 1h1v1h-1zm1 1h2v1h-2zm2 1h1v1h-1zm1 1h1v1h-1zm1 1h1v2h-1zm1 2h1v1h-1zm1 1h1v1h-1zm1 -1h2v1h-2zm2 -1h2v1h-2zm2 -1h2v1h-2zm2 -1h2v1h-2zm1 0h1v2h-1zm1 2h1v2h-1zm1 2h1v2h-1zm1 2h1v2h-1zm1 2h1v3h-1zm1 3h1v4h-1zm1 4h1v4h-1zm1 4h1v4h-1zm1 4h1v3h-1zm1 3h1v1h-1zm1 1h2v1h-2zm2 1h1v2h-1zm1 2h1v2h-1zm1 2h1v2h-1zm1 2h1v2h-1zm1 2h1v3h-1zm1 3h1v3h-1zm1 3h1v2h-1zm1 2h1v3h-1zm1 3h1v2h-1zm0 1h5v1h-5zm5 -1h1v1h-1zm1 -2h1v2h-1zm1 -1h2v1h-2zm1 -1h1v2h-1zm1 2h1v3h-1zm1 3h1v3h-1zm1 3h1v3h-1zm1 3h1v3h-1zm1 3h1v2h-1zm1 2h1v3h-1zm1 3h1v2h-1zm1 2h1v2h-1zm1 2h1v2h-1zm1 2h1v2h-1zm1 2h1v2h-1zm1 2h1v2h-1zm1 2h1v4h-1zm1 4h1v3h-1zm1 3h1v4h-1zm1 4h1v3h-1zm1 3h1v2h-1zm1 2h1v3h-1zm1 3h1v2h-1zm1 2h1v3h-1zm1 3h1v4h-1zm1 4h1v3h-1zm1 3h1v4h-1zm1 4h1v3h-1zm1 3h1v3h-1zm1 3h1v3h-1zm1 3h1v3h-1zm1 3h1v2h-1zm1 2h1v1h-1zm1 1h2v1h-2zm2 1h1v1h-1zm1 -1h1v1h-1zm1 -1h2v1h-2zm2 -1h1v1h-1zm1 -1h1v1h-1zm1 -1h2v1h-2zm2 -1h1v1h-1zm1 -2h1v2h-1zm1 -2h1v2h-1zm1 -2h1v2h-1zm1 -1h1v1h-1zm1 -2h1v2h-1zm1 -1h1v1h-1zm1 -2h1v2h-1zm1 -1h1v1h-1zm1 1h1v2h-1zm1 2h1v2h-1zm1 2h1v2h-1zm1 2h1v3h-1zm1 3h1v3h-1zm1 3h1v4h-1zm1 4h1v3h-1zm1 3h1v4h-1zm1 4h1v4h-1zm1 4h1v4h-1zm1 4h1v4h-1zm1 4h1v5h-1zm1 5h1v4h-1zm1 4h1v5h-1zm1 5h1v4h-1zm1 4h1v7h-1zm1 7h1v8h-1zm1 8h1v8h-1zm1 8h1v8h-1zm1 8h1v7h-1zm1 7h1v6h-1zm1 6h1v6h-1zm1 6h1v6h-1zm1 6h1v5h-1zm1 5h1v5h-1zm1 5h1v4h-1zm1 4h1v5h-1zm1 5h1v4h-1zm1 4h1v4h-1zm1 4h1v4h-1zm1 4h1v4h-1zm1 4h1v3h-1zm1 3h1v3h-1zm1 3h1v3h-1zm1 3h1v3h-1zm1 3h1v2h-1zm0 1h2v1h-2zm2 -1h3v1h-3zm3 -1h1v1h-1zm1 -2h1v2h-1zm1 -1h1v1h-1zm1 -2h1v2h-1zm1 -2h1v2h-1zm1 -3h1v3h-1zm1 -2h1v2h-1zm1 -4h1v4h-1zm1 -5h1v5h-1zm1 -5h1v5h-1zm1 -5h1v5h-1zm1 -4h1v4h-1zm1 -3h1v3h-1zm1 -2h1v2h-1zm1 -3h1v3h-1zm1 -3h1v3h-1zm1 -4h1v4h-1zm1 -3h1v3h-1zm1 -4h1v4h-1zm1 -2h1v2h-1zm1 -2h1v2h-1zm1 -1h1v1h-1zm1 -2h1v2h-1zm1 -1h1v1h-1zm1 -1h1v1h-1zm1 -2h1v2h-1zm1 -1h1v1h-1zm1 -1h1v1h-1zm1 1h1v2h-1zm1 2h1v2h-1zm1 2h1v2h-1zm1 2h1v2h-1zm1 2h2v1h-2zm2 1h6v1h-6zm6 -1h2v1h-2zm2 -1h2v1h-2zm2 1h2v1h-2zm2 1h2v1h-2zm2 -1h1v1h-1zm1 -1h2v1h-2zm2 -2h1v2h-1zm1 -3h1v3h-1zm1 -4h1v4h-1zm1 -3h1v3h-1zm1 -3h1v3h-1zm1 -4h1v4h-1zm1 -4h1v4h-1zm1 -4h1v4h-1zm1 -3h1v3h-1zm1 -3h1v3h-1zm1 -4h1v4h-1zm1 -3h1v3h-1zm1 -3h1v3h-1zm1 -4h1v4h-1zm1 -4h1v4h-1zm1 -4h1v4h-1zm1 -4h1v4h-1zm1 -5h1v5h-1zm1 -5h1v5h-1zm1 -5h1v5h-1zm1 -4h1v4h-1zm1 -3h1v3h-1zm1 -2h1v2h-1zm1 -3h1v3h-1zm1 -3h1v3h-1zm1 -2h1v2h-1zm1 -2h1v2h-1zm1 -2h1v2h-1zm1 -3h1v3h-1zm1 -4h1v4h-1zm1 -4h1v4h-1zm1 -4h1v4h-1zm1 -3h1v3h-1zm1 -4h1v4h-1zm1 -3h1v3h-1zm1 -4h1v4h-1zm1 -3h1v3h-1zm1 -2h1v2h-1zm1 -3h1v3h-1zm1 -2h1v2h-1zm1 -3h1v3h-1zm1 -4h1v4h-1zm1 -3h1v3h-1zm1 -4h1v4h-1zm1 -3h1v3h-1zm1 -3h1v3h-1zm1 -3h1v3h-1zm1 -3h1v3h-1zm1 -3h1v3h-1zm1 -3h1v3h-1zm1 -3h1v3h-1zm1 -3h1v3h-1zm1 -3h1v3h-1zm1 -3h1v3h-1zm1 -3h1v3h-1zm1 -3h1v3h-1zm1 -3h1v3h-1zm1 -3h1v3h-1zm1 -3h1v3h-1zm1 -3h1v3h-1zm1 -2h1v2h-1zm1 -2h1v2h-1zm1 -1h1v1h-1zm1 -2h1v2h-1zm1 -1h1v1h-1zm1 -2h1v2h-1zm1 -2h1v2h-1zm1 -2h1v2h-1zm1 -1h2v1h-2zm2 1h3v1h-3zm3 1h1v2h-1zm1 2h1v1h-1zm1 1h1v2h-1zm1 2h1v1h-1zm1 1h1v2h-1zm1 2h1v2h-1zm1 2h1v2h-1zm1 2h1v2h-1zm1 2h1v2h-1zm1 2h1v2h-1zm1 2h1v2h-1zm1 2h1v2h-1zm1 2h1v3h-1zm1 3h1v3h-1zm1 3h1v3h-1zm1 3h1v2h-1zm1 2h1v2h-1zm1 2h1v2h-1zm1 2h1v2h-1zm1 2h1v2h-1zm0 1h2v1h-2zm2 1h3v1h-3zm3 1h1v1h-1zm1 1h2v1h-2zm2 1h1v1h-1zm1 1h1v1h-1zm1 1h1v1h-1zm1 1h1v1h-1zm1 1h1v1h-1zm1 1h1v1h-1zm1 1h1v2h-1zm1 2h1v1h-1zm1 1h1v1h-1zm1 1h1v1h-1zm1 1h1v2h-1zm1 2h1v1h-1zm1 1h1v1h-1zm1 -1h2v1h-2zm2 -1h2v1h-2zm2 -2h1v2h-1zm1 -2h1v2h-1zm1 -2h1v2h-1zm1 -3h1v3h-1zm1 -2h1v2h-1zm1 -3h1v3h-1zm1 -2h1v2h-1zm1 -2h1v2h-1z" fill="#ffa500"/>
<rect x="1" y="54" width="1636" height="2" fill="#ff0000"/>
<rect x="1" y="174" width="1636" height="2" fill="#ff0000"/>
<rect x="1" y="276" width="1636" height="2" fill="#00ff00"/>
<rect x="1" y="414" width="1636" height="2" fill="#0000ff"/>
<rect x="1" y="521" width="1636" height="2" fill="#0000ff"/>
</g>
<path d="M4 31 L11 31 L7.5 35 Z" fill="#000" shape-rendering="auto"/>
<text x="16.4" y="36" font-size="9.8" fill="#000" color="#000" textLength="65.5" lengthAdjust="spacingAndGlyphs" >USDCAD,Daily</text>
<text x="88.5" y="36" font-size="9.8" fill="#000" color="#000" textLength="140.2" lengthAdjust="spacingAndGlyphs" >1.32845 1.32965 1.32665 1.32906</text>
<text x="1643.0" y="31" font-size="9.7" fill="#000" color="#000" textLength="32.6" lengthAdjust="spacingAndGlyphs" >1.35930</text>
<text x="1643.0" y="64" font-size="9.7" fill="#000" color="#000" textLength="32.6" lengthAdjust="spacingAndGlyphs" >1.35550</text>
<text x="1643.0" y="97" font-size="9.7" fill="#000" color="#000" textLength="32.6" lengthAdjust="spacingAndGlyphs" >1.35160</text>
<text x="1643.0" y="130" font-size="9.7" fill="#000" color="#000" textLength="32.6" lengthAdjust="spacingAndGlyphs" >1.34780</text>
<text x="1643.0" y="163" font-size="9.7" fill="#000" color="#000" textLength="32.6" lengthAdjust="spacingAndGlyphs" >1.34390</text>
<text x="1643.0" y="196" font-size="9.7" fill="#000" color="#000" textLength="32.6" lengthAdjust="spacingAndGlyphs" >1.34000</text>
<text x="1643.0" y="229" font-size="9.7" fill="#000" color="#000" textLength="32.6" lengthAdjust="spacingAndGlyphs" >1.33620</text>
<text x="1643.0" y="262" font-size="9.7" fill="#000" color="#000" textLength="32.6" lengthAdjust="spacingAndGlyphs" >1.33230</text>
<text x="1643.0" y="295" font-size="9.7" fill="#000" color="#000" textLength="32.6" lengthAdjust="spacingAndGlyphs" >1.32850</text>
<text x="1643.0" y="328" font-size="9.7" fill="#000" color="#000" textLength="32.6" lengthAdjust="spacingAndGlyphs" >1.32460</text>
<text x="1643.0" y="361" font-size="9.7" fill="#000" color="#000" textLength="32.6" lengthAdjust="spacingAndGlyphs" >1.32080</text>
<text x="1643.0" y="394" font-size="9.7" fill="#000" color="#000" textLength="32.6" lengthAdjust="spacingAndGlyphs" >1.31690</text>
<text x="1643.0" y="427" font-size="9.7" fill="#000" color="#000" textLength="32.6" lengthAdjust="spacingAndGlyphs" >1.31310</text>
<text x="1643.0" y="460" font-size="9.7" fill="#000" color="#000" textLength="32.6" lengthAdjust="spacingAndGlyphs" >1.30920</text>
<text x="1643.0" y="493" font-size="9.7" fill="#000" color="#000" textLength="32.6" lengthAdjust="spacingAndGlyphs" >1.30530</text>
<text x="1643.0" y="526" font-size="9.7" fill="#000" color="#000" textLength="32.6" lengthAdjust="spacingAndGlyphs" >1.30150</text>
<text x="1643.0" y="559" font-size="9.7" fill="#000" color="#000" textLength="32.6" lengthAdjust="spacingAndGlyphs" >1.29760</text>
<text x="1643.0" y="592" font-size="9.7" fill="#000" color="#000" textLength="32.6" lengthAdjust="spacingAndGlyphs" >1.29380</text>
<path d="M1638 27h2v1h-2z M1638 60h2v1h-2z M1638 93h2v1h-2z M1638 126h2v1h-2z M1638 159h2v1h-2z M1638 192h2v1h-2z M1638 225h2v1h-2z M1638 258h2v1h-2z M1638 291h2v1h-2z M1638 324h2v1h-2z M1638 357h2v1h-2z M1638 390h2v1h-2z M1638 423h2v1h-2z M1638 456h2v1h-2z M1638 489h2v1h-2z M1638 522h2v1h-2z M1638 555h2v1h-2z M1638 588h2v1h-2z" fill="#000"/>
<rect x="1639" y="49" width="41" height="11" fill="#ff0000"/>
<text x="1643.0" y="58" font-size="9.7" fill="#fff" color="#fff" textLength="32.6" lengthAdjust="spacingAndGlyphs" >1.35606</text>
<rect x="1639" y="169" width="41" height="11" fill="#ff0000"/>
<text x="1643.0" y="178" font-size="9.7" fill="#fff" color="#fff" textLength="32.6" lengthAdjust="spacingAndGlyphs" >1.34206</text>
<rect x="1639" y="271" width="41" height="11" fill="#00ff00"/>
<text x="1643.0" y="280" font-size="9.7" fill="#fff" color="#fff" textLength="32.6" lengthAdjust="spacingAndGlyphs" >1.33011</text>
<rect x="1639" y="282" width="41" height="10" fill="#000"/>
<text x="1643.0" y="290" font-size="9.7" fill="#fff" color="#fff" textLength="32.6" lengthAdjust="spacingAndGlyphs" >1.32906</text>
<rect x="1639" y="409" width="41" height="11" fill="#0000ff"/>
<text x="1643.0" y="418" font-size="9.7" fill="#fff" color="#fff" textLength="32.6" lengthAdjust="spacingAndGlyphs" >1.31405</text>
<rect x="1639" y="516" width="41" height="11" fill="#0000ff"/>
<text x="1643.0" y="525" font-size="9.7" fill="#fff" color="#fff" textLength="32.6" lengthAdjust="spacingAndGlyphs" >1.30152</text>
<g clip-path="url(#cr)">
<line x1="2" y1="625.5" x2="1637" y2="625.5" stroke="#c0c0c0" stroke-width="1" stroke-dasharray="3,3"/>
<line x1="2" y1="666.5" x2="1637" y2="666.5" stroke="#c0c0c0" stroke-width="1" stroke-dasharray="3,3"/>
<path d="M0 0m1 645h2v1h-2zm2 1h3v1h-3zm3 -2h1v2h-1zm1 -1h1v1h-1zm1 -2h1v2h-1zm1 -1h1v1h-1zm1 1h1v1h-1zm1 1h2v1h-2zm2 1h1v1h-1zm1 1h2v1h-2zm2 1h3v1h-3zm3 1h4v1h-4zm4 -1h3v1h-3zm3 1h1v2h-1zm1 2h1v2h-1zm1 2h1v2h-1zm1 2h2v1h-2zm2 -1h4v1h-4zm4 -1h3v1h-3zm3 1h1v1h-1zm1 1h1v1h-1zm1 1h1v1h-1zm1 1h1v1h-1zm1 -1h1v1h-1zm1 -1h1v1h-1zm1 -1h1v1h-1zm1 -1h1v1h-1zm1 -1h2v1h-2zm2 -1h2v1h-2zm2 1h1v1h-1zm1 1h1v2h-1zm1 2h1v1h-1zm1 1h1v1h-1zm1 -1h1v1h-1zm1 -1h2v1h-2zm2 -1h1v1h-1zm1 -2h1v2h-1zm1 -2h1v2h-1zm1 -2h1v2h-1zm1 -1h1v1h-1zm1 -1h1v1h-1zm1 -2h1v2h-1zm1 -1h1v1h-1zm1 -1h2v1h-2zm2 -1h3v1h-3zm3 -1h2v1h-2zm2 -1h2v1h-2zm2 -1h1v1h-1zm1 -2h1v2h-1zm1 -1h1v1h-1zm1 -1h2v1h-2zm2 -1h7v1h-7zm7 1h1v1h-1zm1 1h2v1h-2zm2 1h5v1h-5zm5 1h1v1h-1zm1 1h1v1h-1zm1 1h1v1h-1zm1 1h1v1h-1zm1 1h1v2h-1zm1 2h1v2h-1zm1 2h1v2h-1zm1 2h1v2h-1zm0 1h5v1h-5zm5 -1h2v1h-2zm2 -1h3v1h-3zm3 -1h7v1h-7zm7 1h1v2h-1zm1 2h1v2h-1zm1 2h1v2h-1zm1 2h1v1h-1zm1 -1h1v1h-1zm1 -2h1v2h-1zm1 -1h1v1h-1zm1 -1h1v1h-1zm1 -1h1v1h-1zm1 -1h1v1h-1zm1 -1h1v1h-1zm1 -1h1v1h-1zm1 -1h1v1h-1zm1 -1h1v1h-1zm1 -1h1v1h-1zm1 -1h2v1h-2zm2 -1h7v1h-7zm7 1h1v1h-1zm1 1h1v2h-1zm1 2h1v1h-1zm1 1h1v1h-1zm1 -1h1v1h-1zm1 -2h1v2h-1zm1 -1h1v1h-1zm1 -1h2v1h-2zm2 1h3v1h-3zm2 0h1v2h-1zm1 2h1v2h-1zm1 2h1v3h-1zm1 3h1v2h-1zm1 2h1v2h-1zm0 1h5v1h-5zm5 1h2v1h-2zm2 1h2v1h-2zm2 -1h2v1h-2zm2 -1h2v1h-2zm2 1h1v1h-1zm1 1h1v2h-1zm1 2h1v1h-1zm1 1h1v1h-1zm1 -2h1v2h-1zm1 -1h1v1h-1zm1 -2h1v2h-1zm1 -1h1v1h-1zm1 -1h1v1h-1zm1 -1h2v1h-2zm2 -1h2v1h-2zm2 -1h3v1h-3zm2 0h1v2h-1zm1 2h1v2h-1zm1 2h1v3h-1zm1 3h1v2h-1zm1 2h1v2h-1zm0 1h2v1h-2zm2 -1h7v1h-7zm7 -2h1v2h-1zm1 -2h1v2h-1zm1 -2h1v2h-1zm1 -1h1v1h-1zm1 1h1v1h-1zm1 1h1v2h-1zm1 2h1v1h-1zm1 1h5v1h-5zm5 -1h1v1h-1zm1 -2h1v2h-1zm1 -1h1v1h-1zm1 -1h1v1h-1zm1 1h1v1h-1zm1 1h1v1h-1zm1 1h1v1h-1zm1 1h5v1h-5zm5 -1h1v1h-1zm1 -1h1v1h-1zm1 -1h1v1h-1zm1 -1h2v1h-2zm2 1h3v1h-3zm3 -1h2v1h-2zm2 -1h2v1h-2zm2 1h1v1h-1zm1 1h1v2h-1zm1 2h2v1h-2zm1 0h1v2h-1zm1 -2h1v2h-1zm1 -2h1v2h-1zm1 -2h1v2h-1zm1 -2h1v2h-1zm1 -1h1v1h-1zm1 -2h1v2h-1zm1 -1h1v1h-1zm1 -1h1v1h-1zm1 -1h2v1h-2zm2 -1h2v1h-2zm2 1h1v1h-1zm1 1h1v2h-1zm1 2h1v1h-1zm1 1h5v1h-5zm5 1h2v1h-2zm2 1h2v1h-2zm2 1h1v1h-1zm1 1h1v1h-1zm1 1h1v1h-1zm1 1h2v1h-2zm2 1h3v1h-3zm3 -2h1v2h-1zm1 -1h1v1h-1zm1 -2h1v2h-1zm1 -1h1v1h-1zm1 1h1v1h-1zm1 1h1v2h-1zm1 2h1v1h-1zm1 1h2v1h-2zm2 1h3v1h-3zm3 -1h2v1h-2zm2 -1h2v1h-2zm2 -1h1v1h-1zm1 -1h1v1h-1zm1 -1h1v1h-1zm1 -1h1v1h-1zm1 1h1v1h-1zm1 1h2v1h-2zm2 1h1v1h-1zm1 -1h1v1h-1zm1 -1h1v1h-1zm1 -1h2v1h-2zm1 -1h1v2h-1zm1 2h1v2h-1zm1 2h1v2h-1zm1 2h1v2h-1zm1 2h1v2h-1zm0 1h2v1h-2zm2 1h3v1h-3zm3 -1h1v1h-1zm1 -2h1v2h-1zm1 -1h1v1h-1zm1 -1h5v1h-5zm5 1h1v1h-1zm1 1h1v1h-1zm1 1h1v1h-1zm1 1h2v1h-2zm2 1h3v1h-3zm3 -2h1v2h-1zm1 -1h1v1h-1zm1 -2h1v2h-1zm1 -1h1v1h-1zm1 1h1v1h-1zm1 1h1v2h-1zm1 2h1v1h-1zm1 1h5v1h-5zm5 1h1v1h-1zm1 1h2v1h-2zm2 1h5v1h-5zm5 -2h1v2h-1zm1 -2h1v2h-1zm1 -2h1v2h-1zm1 -1h1v1h-1zm1 1h1v1h-1zm1 1h2v1h-2zm2 1h1v1h-1zm1 1h2v1h-2zm2 1h6v1h-6zm6 -1h1v1h-1zm1 -2h1v2h-1zm1 -1h1v1h-1zm1 -1h1v1h-1zm1 -2h1v2h-1zm1 -2h1v2h-1zm1 -2h1v2h-1zm1 -2h1v2h-1zm0 1h2v1h-2zm2 1h1v2h-1zm1 2h1v1h-1zm1 1h1v1h-1zm1 -1h2v1h-2zm2 -1h6v1h-6zm5 0h1v2h-1zm1 2h1v2h-1zm1 2h1v2h-1zm1 2h1v2h-1zm1 2h1v2h-1zm1 2h1v2h-1zm1 2h1v2h-1zm1 2h1v2h-1zm1 2h1v1h-1zm1 1h2v1h-2zm2 1h2v1h-2zm2 1h1v1h-1zm1 1h1v1h-1zm1 1h1v1h-1zm1 1h1v1h-1zm1 1h1v2h-1zm1 2h1v2h-1zm1 2h1v2h-1zm1 2h1v2h-1zm0 1h2v1h-2zm2 1h4v1h-4zm4 1h3v1h-3zm3 -2h1v2h-1zm1 -1h1v1h-1zm1 -2h1v2h-1zm1 -1h2v1h-2zm2 -1h3v1h-3zm3 -2h1v2h-1zm1 -1h1v1h-1zm1 -2h1v2h-1zm1 -1h1v1h-1zm1 -2h1v2h-1zm1 -2h1v2h-1zm1 -2h1v2h-1zm1 -1h1v1h-1zm1 -1h1v1h-1zm1 -2h1v2h-1zm1 -1h1v1h-1zm1 -1h1v1h-1zm1 1h1v1h-1zm1 1h2v1h-2zm2 1h5v1h-5zm5 1h1v1h-1zm1 1h1v2h-1zm1 2h1v1h-1zm1 1h1v2h-1zm1 2h1v4h-1zm1 4h1v3h-1zm1 3h1v4h-1zm1 4h1v2h-1zm0 1h2v1h-2zm2 -1h8v1h-8zm8 1h3v1h-3zm3 1h1v1h-1zm1 1h2v1h-2zm2 1h1v1h-1zm1 1h1v1h-1zm1 1h2v1h-2zm2 1h2v1h-2zm2 -1h3v1h-3zm3 1h2v1h-2zm2 1h6v1h-6zm6 -2h1v2h-1zm1 -2h1v2h-1zm1 -2h1v2h-1zm1 -2h2v1h-2zm0 0h1v2h-1zm2 1h3v1h-3zm3 1h1v1h-1zm1 1h1v1h-1zm1 1h1v1h-1zm1 1h2v1h-2zm2 1h3v1h-3zm2 -1h1v2h-1zm1 -2h1v2h-1zm1 -3h1v3h-1zm1 -2h1v2h-1zm1 -2h1v2h-1zm0 1h2v1h-2zm2 1h2v1h-2zm2 1h2v1h-2zm2 -1h3v1h-3zm3 -2h1v2h-1zm1 -1h1v1h-1zm1 -2h1v2h-1zm1 -1h1v1h-1zm1 1h2v1h-2zm2 1h2v1h-2zm2 1h1v1h-1zm1 1h2v1h-2zm2 1h1v1h-1zm1 1h1v1h-1zm1 1h2v1h-2zm2 1h2v1h-2zm2 1h4v1h-4zm4 -1h4v1h-4zm4 -1h7v1h-7zm6 -1h1v2h-1zm1 -2h1v2h-1zm1 -3h1v3h-1zm1 -2h1v2h-1zm1 -2h2v1h-2zm0 0h1v2h-1zm2 1h3v1h-3zm3 1h1v1h-1zm1 1h3v1h-3zm2 0h1v2h-1zm1 -2h1v2h-1zm1 -2h1v2h-1zm1 -2h1v2h-1zm1 -2h1v2h-1zm1 -1h1v1h-1zm1 -1h1v1h-1zm1 -1h1v1h-1zm1 -1h2v1h-2zm2 1h3v1h-3zm3 -1h2v1h-2zm2 -1h2v1h-2zm2 -2h1v2h-1zm1 -1h1v1h-1zm1 -2h1v2h-1zm1 -1h1v1h-1zm1 1h1v1h-1zm1 1h2v1h-2zm2 1h1v1h-1zm1 1h1v1h-1zm1 1h1v1h-1zm1 1h1v1h-1zm1 1h1v1h-1zm1 -1h1v1h-1zm1 -1h2v1h-2zm2 -1h1v1h-1zm1 1h1v1h-1zm1 1h1v2h-1zm1 2h2v1h-2zm1 0h1v2h-1zm1 -2h1v2h-1zm1 -2h1v2h-1zm1 -2h1v2h-1zm1 -2h2v1h-2zm0 0h1v2h-1zm2 -1h4v1h-4zm4 1h3v1h-3zm3 1h1v1h-1zm1 1h2v1h-2zm2 1h1v1h-1zm1 -2h1v2h-1zm1 -2h1v2h-1zm1 -2h1v2h-1zm1 -1h1v1h-1zm1 -2h1v2h-1zm1 -2h1v2h-1zm1 -2h2v1h-2zm0 0h1v2h-1zm1 -1h1v2h-1zm1 2h1v3h-1zm1 3h1v4h-1zm1 4h1v3h-1zm1 3h1v2h-1zm1 2h2v1h-2zm2 1h2v1h-2zm2 1h2v1h-2zm2 1h2v1h-2zm2 -1h2v1h-2zm2 -1h3v1h-3zm3 1h3v1h-3zm2 -1h1v2h-1zm1 -2h1v2h-1zm1 -3h1v3h-1zm1 -2h1v2h-1zm1 -2h5v1h-5zm0 0h1v2h-1zm5 1h1v2h-1zm1 2h1v2h-1zm1 2h1v2h-1zm1 2h2v1h-2zm2 1h3v1h-3zm3 -1h1v1h-1zm1 -1h1v1h-1zm1 -1h1v1h-1zm1 -1h1v1h-1zm1 -1h2v1h-2zm2 -1h2v1h-2zm2 1h1v2h-1zm1 2h1v2h-1zm1 2h1v2h-1zm1 2h1v1h-1zm1 -1h2v1h-2zm2 -1h2v1h-2zm2 -1h2v1h-2zm2 -1h2v1h-2zm2 1h1v1h-1zm1 1h1v1h-1zm1 1h1v1h-1zm1 1h2v1h-2zm2 1h4v1h-4zm4 1h3v1h-3zm3 -1h1v1h-1zm1 -1h2v1h-2zm2 -1h2v1h-2zm2 1h4v1h-4zm4 1h3v1h-3zm3 -1h1v1h-1zm1 -1h1v1h-1zm1 -1h1v1h-1zm1 -1h5v1h-5zm5 -1h2v1h-2zm2 -1h2v1h-2zm1 0h1v2h-1zm1 2h1v4h-1zm1 4h1v3h-1zm1 3h1v4h-1zm1 4h1v2h-1zm0 1h2v1h-2zm2 1h3v1h-3zm3 1h1v2h-1zm1 2h1v2h-1zm1 2h1v2h-1zm1 2h1v2h-1zm0 1h2v1h-2zm2 -1h3v1h-3zm3 1h1v1h-1zm1 1h1v1h-1zm1 1h1v1h-1zm1 1h1v1h-1zm1 -1h1v1h-1zm1 -2h1v2h-1zm1 -1h1v1h-1zm1 -1h1v1h-1zm1 -1h1v1h-1zm1 -2h1v2h-1zm1 -1h1v1h-1zm1 -1h2v1h-2zm2 -1h3v1h-3zm3 -2h1v2h-1zm1 -2h1v2h-1zm1 -2h1v2h-1zm1 -2h1v2h-1zm1 -1h2v1h-2zm2 -1h2v1h-2zm2 1h1v2h-1zm1 2h1v1h-1zm1 1h1v2h-1zm1 2h2v1h-2zm2 -1h3v1h-3zm3 -1h1v1h-1zm1 -2h1v2h-1zm1 -1h1v1h-1zm1 -1h1v1h-1zm1 1h1v1h-1zm1 1h1v1h-1zm1 1h1v1h-1zm1 1h1v1h-1zm1 -1h2v1h-2zm2 -1h3v1h-3zm3 -1h4v1h-4zm4 1h3v1h-3zm3 1h1v1h-1zm1 1h2v1h-2zm2 1h1v1h-1zm1 -1h1v1h-1zm1 -1h1v1h-1zm1 -1h1v1h-1zm1 -1h1v1h-1zm1 1h2v1h-2zm2 1h2v1h-2zm2 1h1v1h-1zm1 1h2v1h-2zm2 1h2v1h-2zm2 1h7v1h-7zm7 1h2v1h-2zm2 1h2v1h-2zm1 -1h1v2h-1zm1 -3h1v3h-1zm1 -4h1v4h-1zm1 -3h1v3h-1zm1 -2h2v1h-2zm0 0h1v2h-1zm2 -1h4v1h-4zm4 -1h4v1h-4zm4 1h3v1h-3zm3 1h1v1h-1zm1 1h1v1h-1zm1 1h1v1h-1zm1 1h1v1h-1zm1 -1h1v1h-1zm1 -1h1v1h-1zm1 -1h1v1h-1zm1 -1h2v1h-2zm2 1h3v1h-3zm2 0h1v2h-1zm1 2h1v2h-1zm1 2h1v3h-1zm1 3h1v2h-1zm1 2h1v3h-1zm1 3h1v3h-1zm1 3h1v4h-1zm1 4h1v3h-1zm1 3h1v2h-1zm0 1h5v1h-5zm4 -1h1v2h-1zm1 -2h1v2h-1zm1 -2h1v2h-1zm1 -2h1v2h-1zm1 -2h1v2h-1zm0 1h2v1h-2zm2 1h1v1h-1zm1 1h1v1h-1zm1 1h2v1h-2zm2 1h3v1h-3zm3 1h1v2h-1zm1 2h1v1h-1zm1 1h1v2h-1zm1 2h6v1h-6zm6 1h3v1h-3zm3 1h2v1h-2zm2 1h2v1h-2zm2 1h2v1h-2zm2 1h3v1h-3zm3 -1h4v1h-4zm4 1h4v1h-4zm4 1h4v1h-4zm4 1h4v1h-4zm4 -1h3v1h-3zm3 -1h1v1h-1zm1 -1h1v1h-1zm1 -1h1v1h-1zm1 -3h1v3h-1zm1 -5h1v5h-1zm1 -5h1v5h-1zm1 -5h1v5h-1zm1 -3h1v3h-1zm0 1h2v1h-2zm2 1h1v2h-1zm1 2h1v1h-1zm1 1h13v1h-13zm13 -1h1v1h-1zm1 -1h2v1h-2zm2 -1h1v1h-1zm1 -1h1v1h-1zm1 -1h2v1h-2zm2 -1h2v1h-2zm2 1h3v1h-3zm3 -2h1v2h-1zm1 -2h1v2h-1zm1 -2h1v2h-1zm1 -1h1v1h-1zm1 -1h2v1h-2zm2 -1h2v1h-2zm2 1h1v1h-1zm1 1h2v1h-2zm2 1h1v1h-1zm1 -1h2v1h-2zm2 -1h2v1h-2zm2 -1h2v1h-2zm2 -1h2v1h-2zm2 -1h2v1h-2zm2 -1h2v1h-2zm2 1h1v2h-1zm1 2h1v2h-1zm1 2h1v2h-1zm1 2h3v1h-3zm0 0h1v2h-1zm3 -1h2v1h-2zm2 1h1v1h-1zm1 1h1v1h-1zm1 1h1v1h-1zm1 1h1v1h-1zm1 -1h2v1h-2zm2 -1h2v1h-2zm1 -1h1v2h-1zm1 -2h1v2h-1zm1 -3h1v3h-1zm1 -2h1v2h-1zm1 -2h1v2h-1zm0 1h2v1h-2zm2 1h2v1h-2zm2 1h2v1h-2zm2 -1h7v1h-7zm7 -1h1v1h-1zm1 -1h2v1h-2zm2 -1h1v1h-1zm1 1h1v1h-1zm1 1h1v2h-1zm1 2h1v1h-1zm1 1h1v1h-1zm1 1h2v1h-2zm2 1h6v1h-6zm6 1h2v1h-2zm2 1h6v1h-6zm6 -1h1v1h-1zm1 -2h1v2h-1zm1 -1h1v1h-1zm1 -1h1v1h-1zm1 1h1v1h-1zm1 1h2v1h-2zm2 1h1v2h-1zm1 2h1v4h-1zm1 4h1v3h-1zm1 3h1v4h-1zm1 4h1v2h-1zm1 2h1v2h-1zm1 2h1v2h-1zm1 2h1v2h-1zm1 2h1v2h-1zm1 -4h1v4h-1zm1 -3h1v3h-1zm1 -4h1v4h-1zm1 -2h2v1h-2zm0 0h1v2h-1zm2 1h3v1h-3zm3 1h1v1h-1zm1 1h1v2h-1zm1 2h1v1h-1zm1 1h2v1h-2zm2 -1h3v1h-3zm3 1h2v1h-2zm2 1h2v1h-2zm2 1h1v1h-1zm1 1h2v1h-2zm2 1h2v1h-2zm2 -1h3v1h-3zm3 1h2v1h-2zm2 1h2v1h-2zm2 1h1v1h-1zm1 1h1v2h-1zm1 2h1v1h-1zm1 1h2v1h-2zm2 -1h3v1h-3zm3 1h1v1h-1zm1 1h1v2h-1zm1 2h1v1h-1zm1 1h1v1h-1zm1 -1h1v1h-1zm1 -1h1v1h-1zm1 -1h1v1h-1zm1 -1h1v1h-1zm1 -2h1v2h-1zm1 -2h1v2h-1zm1 -2h1v2h-1zm1 -1h6v1h-6zm6 -1h3v1h-3zm3 1h2v1h-2zm2 1h3v1h-3zm3 -1h3v1h-3zm3 1h1v2h-1zm1 2h1v2h-1zm1 2h1v2h-1zm1 2h1v1h-1zm1 1h1v1h-1zm1 1h1v1h-1zm1 1h1v1h-1zm1 1h2v1h-2zm2 1h3v1h-3zm3 1h2v1h-2zm2 1h2v1h-2zm2 1h1v2h-1zm1 2h1v2h-1zm1 2h1v2h-1zm1 2h2v1h-2zm0 0h1v2h-1zm2 -1h1v1h-1zm1 -1h1v1h-1zm1 -1h2v1h-2zm2 1h4v1h-4zm4 -1h3v1h-3zm3 -1h2v1h-2zm2 -1h2v1h-2zm2 1h2v1h-2zm2 1h2v1h-2zm1 -1h1v2h-1zm1 -3h1v3h-1zm1 -2h1v2h-1zm1 -3h1v3h-1zm1 -2h1v2h-1zm1 -1h1v1h-1zm1 -1h1v1h-1zm1 -1h1v1h-1zm1 -2h1v2h-1zm1 -3h1v3h-1zm1 -2h1v2h-1zm1 -3h1v3h-1zm1 -2h1v2h-1zm0 1h2v1h-2zm1 0h1v2h-1zm1 2h1v2h-1zm1 2h1v2h-1zm1 2h2v1h-2zm2 -1h4v1h-4zm4 1h3v1h-3zm3 -1h1v1h-1zm1 -1h2v1h-2zm2 -1h1v1h-1zm1 1h1v1h-1zm1 1h2v1h-2zm2 1h2v1h-2zm2 1h3v1h-3zm3 -1h1v1h-1zm1 -1h2v1h-2zm2 -1h2v1h-2zm2 -1h4v1h-4zm4 1h4v1h-4zm4 -1h3v1h-3zm2 -1h1v2h-1zm1 -3h1v3h-1zm1 -2h1v2h-1zm1 -3h1v3h-1zm1 -2h1v2h-1zm1 -1h1v1h-1zm1 -1h1v1h-1zm1 -1h1v1h-1zm1 -1h1v1h-1zm1 1h2v1h-2zm2 1h3v1h-3zm3 -1h3v1h-3zm3 -1h1v1h-1zm1 -2h1v2h-1zm1 -1h1v1h-1zm1 -1h5v1h-5zm5 -1h1v1h-1zm1 -1h2v1h-2zm2 -1h1v1h-1zm1 -1h2v1h-2zm2 -1h3v1h-3zm3 -1h7v1h-7zm7 -1h1v1h-1zm1 -1h1v1h-1zm1 -1h1v1h-1zm1 -1h2v1h-2zm2 -1h3v1h-3zm3 -1h2v1h-2zm2 -1h7v1h-7zm7 -1h3v1h-3zm3 1h1v1h-1zm1 1h2v1h-2zm2 1h1v1h-1zm1 -1h1v1h-1zm1 -1h3v1h-3zm2 -1h1v2h-1zm1 2h1v3h-1zm1 3h1v2h-1zm1 2h1v3h-1zm1 3h1v2h-1zm1 2h1v2h-1zm1 2h1v2h-1zm1 2h1v2h-1zm1 2h1v2h-1zm1 2h2v1h-2zm2 1h3v1h-3zm3 -1h3v1h-3zm3 1h2v1h-2zm2 1h2v1h-2zm2 1h1v1h-1zm1 1h2v1h-2zm2 1h1v1h-1zm1 -1h1v1h-1zm1 -1h2v1h-2zm2 -1h1v1h-1zm1 1h1v1h-1zm1 1h1v2h-1zm1 2h1v1h-1zm1 1h2v1h-2zm2 1h3v1h-3zm3 1h2v1h-2zm2 1h2v1h-2zm2 1h1v1h-1zm1 1h1v2h-1zm1 2h2v1h-2zm1 0h1v2h-1zm1 -4h1v4h-1zm1 -3h1v3h-1zm1 -4h1v4h-1zm1 -2h1v2h-1zm1 -1h1v1h-1zm1 -1h2v1h-2zm2 -1h2v1h-2zm2 -1h3v1h-3z" fill="#1e90ff"/>
</g>
<text x="5.7" y="606" font-size="9.5" fill="#000" color="#000" textLength="67.2" lengthAdjust="spacingAndGlyphs" >RSI(14) 63.3009</text>
<path d="M1638 595h2v1h-2z M1638 696h2v1h-2z" fill="#000"/>
<text x="1640.6" y="604" font-size="9.7" fill="#000" color="#000" textLength="14.2" lengthAdjust="spacingAndGlyphs" >100</text>
<text x="1640" y="629" font-size="9.7" fill="#000" color="#000" textLength="9.6" lengthAdjust="spacingAndGlyphs" >70</text>
<text x="1640" y="670" font-size="9.7" fill="#000" color="#000" textLength="9.6" lengthAdjust="spacingAndGlyphs" >30</text>
<text x="1640.4" y="694" font-size="9.7" fill="#000" color="#000" textLength="5" lengthAdjust="spacingAndGlyphs" >0</text>
<g clip-path="url(#cd)">
<path d="M1 743h1v11h-1z M5 743h1v11h-1z M9 743h1v6h-1z M13 743h1v4h-1z M17 743h1v4h-1z M21 743h1v4h-1z M25 743h1v3h-1z M29 743h1v7h-1z M33 743h1v10h-1z M37 743h1v11h-1z M41 743h1v15h-1z M45 743h1v16h-1z M49 743h1v15h-1z M53 743h1v17h-1z M57 743h1v17h-1z M61 743h1v14h-1z M65 743h1v7h-1z M73 738h1v5h-1z M77 730h1v13h-1z M81 722h1v21h-1z M85 717h1v26h-1z M89 714h1v29h-1z M93 712h1v31h-1z M97 713h1v30h-1z M101 717h1v26h-1z M105 720h1v23h-1z M109 722h1v21h-1z M113 724h1v19h-1z M117 725h1v18h-1z M121 728h1v16h-1z M125 729h1v14h-1z M129 729h1v15h-1z M133 726h1v17h-1z M137 724h1v19h-1z M141 722h1v21h-1z M145 723h1v20h-1z M149 721h1v22h-1z M153 721h1v23h-1z M157 724h1v20h-1z M161 727h1v16h-1z M165 730h1v13h-1z M169 732h1v12h-1z M173 736h1v8h-1z M177 736h1v7h-1z M181 735h1v8h-1z M185 735h1v9h-1z M189 738h1v5h-1z M193 741h1v3h-1z M197 742h1v1h-1z M201 741h1v2h-1z M205 742h1v1h-1z M213 742h1v1h-1z M217 742h1v1h-1z M221 743h1v1h-1z M225 741h1v2h-1z M229 741h1v3h-1z M233 739h1v4h-1z M237 740h1v3h-1z M241 737h1v6h-1z M245 733h1v11h-1z M249 728h1v15h-1z M253 726h1v17h-1z M257 725h1v19h-1z M261 724h1v19h-1z M265 726h1v18h-1z M269 727h1v16h-1z M273 726h1v17h-1z M277 727h1v16h-1z M281 728h1v15h-1z M285 729h1v15h-1z M289 728h1v16h-1z M293 728h1v15h-1z M297 727h1v17h-1z M301 729h1v15h-1z M305 731h1v12h-1z M309 731h1v13h-1z M313 731h1v13h-1z M317 732h1v11h-1z M321 734h1v10h-1z M325 733h1v11h-1z M329 734h1v9h-1z M333 735h1v8h-1z M337 737h1v7h-1z M341 738h1v5h-1z M345 737h1v6h-1z M349 737h1v6h-1z M353 738h1v5h-1z M357 739h1v5h-1z M361 738h1v6h-1z M365 734h1v10h-1z M369 732h1v11h-1z M373 730h1v13h-1z M377 729h1v15h-1z M381 731h1v13h-1z M385 735h1v8h-1z M389 739h1v5h-1z M397 743h1v9h-1z M401 743h1v16h-1z M405 743h1v22h-1z M409 743h1v25h-1z M413 743h1v26h-1z M417 743h1v26h-1z M421 743h1v22h-1z M425 743h1v17h-1z M429 743h1v14h-1z M433 743h1v12h-1z M437 743h1v12h-1z M441 743h1v20h-1z M445 743h1v25h-1z M449 743h1v29h-1z M453 743h1v33h-1z M457 743h1v37h-1z M461 743h1v43h-1z M465 743h1v46h-1z M469 743h1v50h-1z M473 743h1v53h-1z M477 743h1v52h-1z M481 743h1v51h-1z M485 743h1v52h-1z M489 743h1v54h-1z M493 743h1v51h-1z M497 743h1v50h-1z M501 743h1v48h-1z M505 743h1v44h-1z M509 743h1v42h-1z M513 743h1v41h-1z M517 743h1v42h-1z M521 743h1v42h-1z M525 743h1v42h-1z M529 743h1v41h-1z M533 743h1v39h-1z M537 743h1v35h-1z M541 743h1v32h-1z M545 743h1v31h-1z M549 743h1v26h-1z M553 743h1v21h-1z M557 743h1v17h-1z M561 743h1v13h-1z M565 743h1v8h-1z M569 743h1v5h-1z M573 743h1v3h-1z M577 743h1v1h-1z M585 740h1v3h-1z M589 736h1v7h-1z M593 734h1v9h-1z M597 733h1v10h-1z M601 730h1v13h-1z M605 723h1v20h-1z M609 723h1v21h-1z M613 724h1v20h-1z M617 725h1v18h-1z M621 725h1v18h-1z M625 726h1v17h-1z M629 722h1v21h-1z M633 719h1v24h-1z M637 719h1v24h-1z M641 720h1v23h-1z M645 719h1v24h-1z M649 718h1v26h-1z M653 719h1v24h-1z M657 720h1v23h-1z M661 719h1v24h-1z M665 721h1v23h-1z M669 722h1v21h-1z M673 725h1v19h-1z M677 725h1v18h-1z M681 726h1v17h-1z M685 727h1v16h-1z M689 727h1v17h-1z M693 726h1v17h-1z M697 726h1v17h-1z M701 730h1v13h-1z M705 734h1v9h-1z M709 740h1v3h-1z M713 743h1v2h-1z M717 743h1v8h-1z M721 743h1v11h-1z M725 743h1v11h-1z M729 743h1v11h-1z M733 743h1v8h-1z M737 743h1v4h-1z M741 743h1v4h-1z M745 743h1v3h-1z M753 743h1v1h-1z M757 742h1v2h-1z M761 740h1v3h-1z M765 740h1v4h-1z M769 740h1v3h-1z M773 739h1v4h-1z M777 739h1v4h-1z M781 740h1v3h-1z M785 741h1v2h-1z M789 742h1v1h-1z M797 740h1v3h-1z M801 737h1v6h-1z M805 734h1v9h-1z M809 733h1v10h-1z M813 733h1v11h-1z M817 731h1v12h-1z M821 731h1v13h-1z M825 733h1v10h-1z M829 740h1v4h-1z M833 743h1v2h-1z M837 743h1v3h-1z M841 743h1v6h-1z M845 743h1v9h-1z M849 743h1v13h-1z M853 743h1v17h-1z M857 743h1v21h-1z M861 743h1v24h-1z M865 743h1v27h-1z M869 743h1v29h-1z M873 743h1v31h-1z M877 743h1v33h-1z M881 743h1v34h-1z M885 743h1v35h-1z M889 743h1v34h-1z M893 743h1v27h-1z M897 743h1v24h-1z M901 743h1v21h-1z M905 743h1v18h-1z M909 743h1v16h-1z M913 743h1v14h-1z M917 743h1v10h-1z M921 743h1v8h-1z M925 743h1v4h-1z M933 741h1v2h-1z M937 738h1v5h-1z M941 735h1v8h-1z M945 733h1v10h-1z M949 733h1v11h-1z M953 732h1v11h-1z M957 733h1v11h-1z M961 732h1v11h-1z M965 729h1v14h-1z M969 727h1v16h-1z M973 726h1v18h-1z M977 724h1v19h-1z M981 722h1v21h-1z M985 722h1v21h-1z M989 723h1v20h-1z M993 723h1v20h-1z M997 724h1v19h-1z M1001 725h1v18h-1z M1005 725h1v18h-1z M1009 726h1v18h-1z M1013 729h1v14h-1z M1017 735h1v8h-1z M1021 735h1v8h-1z M1025 736h1v7h-1z M1029 738h1v5h-1z M1033 740h1v3h-1z M1037 742h1v1h-1z M1041 743h1v2h-1z M1045 743h1v3h-1z M1049 743h1v6h-1z M1053 743h1v9h-1z M1057 743h1v11h-1z M1061 743h1v15h-1z M1065 743h1v17h-1z M1069 743h1v17h-1z M1073 743h1v16h-1z M1077 743h1v15h-1z M1081 743h1v15h-1z M1085 743h1v14h-1z M1089 743h1v16h-1z M1093 743h1v19h-1z M1097 743h1v21h-1z M1101 743h1v24h-1z M1105 743h1v30h-1z M1109 743h1v34h-1z M1113 743h1v37h-1z M1117 743h1v39h-1z M1121 743h1v40h-1z M1125 743h1v40h-1z M1129 743h1v38h-1z M1133 743h1v35h-1z M1137 743h1v29h-1z M1141 743h1v27h-1z M1145 743h1v24h-1z M1149 743h1v22h-1z M1153 743h1v19h-1z M1157 743h1v18h-1z M1161 743h1v17h-1z M1165 743h1v15h-1z M1169 743h1v13h-1z M1173 743h1v12h-1z M1177 743h1v11h-1z M1181 743h1v7h-1z M1185 743h1v2h-1z M1189 742h1v2h-1z M1193 739h1v4h-1z M1197 735h1v8h-1z M1201 732h1v12h-1z M1205 728h1v15h-1z M1209 725h1v19h-1z M1213 722h1v21h-1z M1217 720h1v24h-1z M1221 717h1v27h-1z M1225 714h1v30h-1z M1229 711h1v32h-1z M1233 709h1v34h-1z M1237 708h1v36h-1z M1241 707h1v36h-1z M1245 706h1v37h-1z M1249 707h1v36h-1z M1253 710h1v33h-1z M1257 713h1v30h-1z M1261 715h1v28h-1z M1265 718h1v25h-1z M1269 721h1v22h-1z M1273 723h1v21h-1z M1277 725h1v18h-1z M1281 728h1v16h-1z M1285 730h1v13h-1z M1289 733h1v10h-1z M1293 732h1v11h-1z M1297 731h1v12h-1z M1301 730h1v13h-1z" fill="#c0c0c0"/>
<path d="M0 0m1 772h1v1h-1zm1 -1h2v1h-2zm5 -3h2v1h-2zm2 -1h1v1h-1zm4 -3h1v1h-1zm1 -1h1v1h-1zm1 -1h1v1h-1zm4 -3h2v1h-2zm2 -1h1v1h-1zm4 -3h1v1h-1zm1 -1h1v1h-1zm1 -1h1v1h-1zm4 -3h2v1h-2zm2 -1h1v1h-1zm4 0h2v1h-2zm2 1h1v1h-1zm4 1h3v1h-3zm6 1h1v1h-1zm1 1h2v1h-2zm5 2h3v1h-3zm6 1h3v1h-3zm6 -1h3v1h-3zm6 -2h1v1h-1zm1 -1h1v1h-1zm1 -1h1v1h-1zm4 -3h1v1h-1zm1 -1h1v1h-1zm1 -1h1v1h-1zm4 -4h1v1h-1zm1 -1h1v1h-1zm1 -1h1v1h-1zm3 -5h1v2h-1zm1 -1h1v1h-1zm3 -4h1v1h-1zm1 -2h1v2h-1zm4 -4h2v1h-2zm2 -1h1v1h-1zm4 -3h1v1h-1zm1 -1h2v1h-2zm5 -1h3v1h-3zm6 0h2v1h-2zm2 1h1v1h-1zm4 1h1v1h-1zm1 1h2v1h-2zm5 2h2v1h-2zm2 1h1v1h-1zm4 1h3v1h-3zm6 0h3v1h-3zm6 0h3v1h-3zm6 -1h3v1h-3zm6 0h3v1h-3zm6 0h3v1h-3zm6 1h1v1h-1zm1 1h2v1h-2zm5 1h1v1h-1zm1 1h2v1h-2zm5 2h3v1h-3zm6 2h1v1h-1zm1 1h2v1h-2zm5 2h1v1h-1zm1 1h2v1h-2zm5 1h2v1h-2zm2 1h1v1h-1zm4 1h3v1h-3zm6 0h2v1h-2zm2 1h1v1h-1zm4 1h3v1h-3zm6 0h3v1h-3zm6 0h3v1h-3zm6 0h3v1h-3zm6 -1h1v1h-1zm1 -1h2v1h-2zm5 -1h1v1h-1zm1 -1h2v1h-2zm5 -2h1v1h-1zm1 -1h2v1h-2zm5 -2h1v1h-1zm1 -1h2v1h-2zm5 -2h3v1h-3zm6 -2h2v1h-2zm2 -1h1v1h-1zm4 0h3v1h-3zm6 0h3v1h-3zm6 1h3v1h-3zm6 0h3v1h-3zm6 1h3v1h-3zm6 0h3v1h-3zm6 1h3v1h-3zm6 0h2v1h-2zm2 1h1v1h-1zm4 1h3v1h-3zm6 0h2v1h-2zm2 1h1v1h-1zm4 1h3v1h-3zm6 1h2v1h-2zm2 1h1v1h-1zm4 0h3v1h-3zm6 1h3v1h-3zm6 0h3v1h-3zm6 0h2v1h-2zm2 -1h1v1h-1zm4 -1h3v1h-3zm6 0h2v1h-2zm2 -1h1v1h-1zm4 0h3v1h-3zm6 1h1v1h-1zm1 1h2v1h-2zm5 2h1v1h-1zm1 1h2v1h-2zm5 4h1v1h-1zm1 1h1v1h-1zm1 1h1v1h-1zm4 4h1v2h-1zm1 2h1v1h-1zm4 4h1v1h-1zm1 1h1v1h-1zm1 1h1v1h-1zm4 4h2v1h-2zm2 1h1v1h-1zm4 2h3v1h-3zm6 0h1v1h-1zm1 -1h2v1h-2zm5 0h3v1h-3zm6 0h3v1h-3zm6 1h2v1h-2zm2 1h1v1h-1zm4 2h1v1h-1zm1 1h2v1h-2zm5 3h1v1h-1zm1 1h1v1h-1zm1 1h1v1h-1zm4 4h1v1h-1zm1 1h1v2h-1zm4 5h1v1h-1zm1 1h1v1h-1zm1 1h1v1h-1zm4 2h1v1h-1zm1 1h1v1h-1zm1 1h1v1h-1zm4 2h1v1h-1zm1 1h2v1h-2zm5 2h2v1h-2zm2 1h1v1h-1zm4 0h3v1h-3zm6 -1h2v1h-2zm2 -1h1v1h-1zm4 -1h3v1h-3zm6 -1h2v1h-2zm2 -1h1v1h-1zm4 -1h3v1h-3zm6 -2h2v1h-2zm2 -1h1v1h-1zm4 -1h3v1h-3zm6 -2h2v1h-2zm2 -1h1v1h-1zm4 -1h3v1h-3zm6 -3h1v1h-1zm1 -1h1v1h-1zm1 -1h1v1h-1zm4 -3h2v1h-2zm2 -1h1v1h-1zm4 -3h1v1h-1zm1 -1h1v1h-1zm1 -1h1v1h-1zm4 -4h1v1h-1zm1 -1h1v1h-1zm1 -1h1v1h-1zm4 -3h1v1h-1zm1 -1h1v1h-1zm1 -1h1v1h-1zm4 -4h2v1h-2zm2 -1h1v1h-1zm4 -3h1v1h-1zm1 -1h1v1h-1zm1 -1h1v1h-1zm4 -3h2v1h-2zm2 -1h1v1h-1zm4 -2h1v1h-1zm1 -1h1v1h-1zm1 -1h1v1h-1zm4 -2h1v1h-1zm1 -1h2v1h-2zm5 -3h1v1h-1zm1 -1h2v1h-2zm5 -2h3v1h-3zm6 -1h1v1h-1zm1 -1h2v1h-2zm5 -2h3v1h-3zm6 -1h2v1h-2zm2 -1h1v1h-1zm4 0h3v1h-3zm6 -1h3v1h-3zm6 -1h3v1h-3zm6 -1h3v1h-3zm6 0h3v1h-3zm6 1h3v1h-3zm6 1h3v1h-3zm6 1h2v1h-2zm2 1h1v1h-1zm4 1h3v1h-3zm6 0h1v1h-1zm1 1h2v1h-2zm5 2h3v1h-3zm6 2h1v1h-1zm1 1h2v1h-2zm5 3h2v1h-2zm2 1h1v1h-1zm4 3h1v1h-1zm1 1h1v1h-1zm1 1h1v1h-1zm4 3h2v1h-2zm2 1h1v1h-1zm4 3h1v1h-1zm1 1h2v1h-2zm5 2h3v1h-3zm6 1h2v1h-2zm2 -1h1v1h-1zm4 -1h3v1h-3zm6 -1h1v1h-1zm1 -1h2v1h-2zm5 -2h3v1h-3zm6 -1h2v1h-2zm2 -1h1v1h-1zm4 -1h3v1h-3zm6 -1h3v1h-3zm6 0h3v1h-3zm6 0h3v1h-3zm6 0h3v1h-3zm6 -1h2v1h-2zm2 -1h1v1h-1zm4 0h3v1h-3zm6 -1h1v1h-1zm1 -1h2v1h-2zm5 -2h3v1h-3zm6 0h2v1h-2zm2 1h1v1h-1zm4 1h3v1h-3zm6 1h1v1h-1zm1 1h2v1h-2zm5 3h2v1h-2zm2 1h1v1h-1zm4 3h1v1h-1zm1 1h1v1h-1zm1 1h1v1h-1zm4 4h1v1h-1zm1 1h1v1h-1zm1 1h1v1h-1zm4 3h1v1h-1zm1 1h1v1h-1zm1 1h1v1h-1zm4 3h2v1h-2zm2 1h1v1h-1zm4 3h1v1h-1zm1 1h1v1h-1zm1 1h1v1h-1zm4 3h2v1h-2zm2 1h1v1h-1zm4 2h3v1h-3zm6 0h3v1h-3zm6 0h1v1h-1zm1 -1h2v1h-2zm5 -2h3v1h-3zm6 -2h1v1h-1zm1 -1h1v1h-1zm1 -1h1v1h-1zm4 -3h2v1h-2zm2 -1h1v1h-1zm4 -3h1v1h-1zm1 -1h1v1h-1zm1 -1h1v1h-1zm4 -3h2v1h-2zm2 -1h1v1h-1zm4 -3h1v1h-1zm1 -1h1v1h-1zm1 -1h1v1h-1zm4 -3h2v1h-2zm2 -1h1v1h-1zm4 -3h1v1h-1zm1 -1h2v1h-2zm5 -2h1v1h-1zm1 -1h2v1h-2zm5 -2h1v1h-1zm1 -1h2v1h-2zm5 -2h3v1h-3zm6 -1h1v1h-1zm1 -1h2v1h-2zm5 -2h3v1h-3zm6 -1h2v1h-2zm2 -1h1v1h-1zm4 -1h3v1h-3zm6 -1h3v1h-3zm6 -1h3v1h-3zm6 1h3v1h-3zm6 1h3v1h-3zm6 2h2v1h-2zm2 1h1v1h-1zm4 1h1v1h-1zm1 1h2v1h-2zm5 2h1v1h-1zm1 1h2v1h-2zm5 2h1v1h-1zm1 1h2v1h-2zm5 2h1v1h-1zm1 1h2v1h-2zm5 2h1v1h-1zm1 1h2v1h-2zm5 2h1v1h-1zm1 1h1v1h-1zm1 1h1v1h-1zm4 2h1v1h-1zm1 1h2v1h-2zm5 3h2v1h-2zm2 1h1v1h-1zm4 1h1v1h-1zm1 1h2v1h-2zm5 1h2v1h-2zm2 1h1v1h-1zm4 1h3v1h-3zm6 1h3v1h-3zm6 1h3v1h-3zm6 2h1v1h-1zm1 1h2v1h-2zm5 2h1v1h-1zm1 1h2v1h-2zm5 3h1v1h-1zm1 1h1v1h-1zm1 1h1v1h-1zm4 2h1v1h-1zm1 1h2v1h-2zm5 3h2v1h-2zm2 1h1v1h-1zm4 1h3v1h-3zm6 -1h2v1h-2zm2 -1h1v1h-1zm4 -1h1v1h-1zm1 -1h2v1h-2zm5 -2h1v1h-1zm1 -1h2v1h-2zm5 -3h2v1h-2zm2 -1h1v1h-1zm4 -2h1v1h-1zm1 -1h1v1h-1zm1 -1h1v1h-1zm4 -2h1v1h-1zm1 -1h2v1h-2zm5 -2h2v1h-2zm2 -1h1v1h-1zm4 -2h2v1h-2zm2 -1h1v1h-1zm4 -2h1v1h-1zm1 -1h2v1h-2zm5 -3h2v1h-2zm2 -1h1v1h-1zm4 -3h1v1h-1zm1 -1h1v1h-1zm1 -1h1v1h-1zm4 -3h1v1h-1zm1 -1h1v1h-1zm1 -1h1v1h-1zm4 -3h1v1h-1zm1 -1h1v1h-1zm1 -1h1v1h-1zm4 -4h2v1h-2zm2 -1h1v1h-1zm4 -3h1v1h-1zm1 -1h1v1h-1zm1 -1h1v1h-1zm4 -3h2v1h-2zm2 -1h1v1h-1zm4 -3h1v1h-1zm1 -1h2v1h-2zm5 -2h1v1h-1zm1 -1h2v1h-2zm5 -2h2v1h-2zm2 -1h1v1h-1zm4 0h3v1h-3zm6 0h2v1h-2zm2 1h1v1h-1zm4 1h3v1h-3zm6 2h1v1h-1zm1 1h2v1h-2zm5 2h1v1h-1zm1 1h2v1h-2zm5 3h1v1h-1zm1 1h2v1h-2zm5 2h1v1h-1zm1 1h2v1h-2zm5 2h1v1h-1zm1 1h2v1h-2z" fill="#ff0000"/>
</g>
<text x="5.5" y="712" font-size="9.4" fill="#000" color="#000" textLength="147.5" lengthAdjust="spacingAndGlyphs" >MACD(12,26,9) 0.002071 0.002356</text>
<path d="M1638 743h2v1h-2z M1638 701h2v1h-2z" fill="#000"/>
<text x="1640.6" y="710" font-size="9.7" fill="#000" color="#000" textLength="38.6" lengthAdjust="spacingAndGlyphs" >0.006448</text>
<text x="1640.6" y="747" font-size="9.7" fill="#000" color="#000" textLength="17.4" lengthAdjust="spacingAndGlyphs" >0.00</text>
<text x="1640.6" y="799" font-size="9.7" fill="#000" color="#000" textLength="42" lengthAdjust="spacingAndGlyphs" >-0.008982</text>
<text x="0.19999999999999996" y="815" font-size="9.1" fill="#000" color="#000" textLength="51.8" lengthAdjust="spacingAndGlyphs" >12 Feb 2019</text>
<text x="64.2" y="815" font-size="9.1" fill="#000" color="#000" textLength="46.7" lengthAdjust="spacingAndGlyphs" >2 Mar 2019</text>
<text x="128.2" y="815" font-size="9.1" fill="#000" color="#000" textLength="51.8" lengthAdjust="spacingAndGlyphs" >21 Mar 2019</text>
<text x="192.2" y="815" font-size="9.1" fill="#000" color="#000" textLength="44.6" lengthAdjust="spacingAndGlyphs" >9 Apr 2019</text>
<text x="256.2" y="815" font-size="9.1" fill="#000" color="#000" textLength="49.7" lengthAdjust="spacingAndGlyphs" >27 Apr 2019</text>
<text x="320.2" y="815" font-size="9.1" fill="#000" color="#000" textLength="53.3" lengthAdjust="spacingAndGlyphs" >16 May 2019</text>
<text x="384.2" y="815" font-size="9.1" fill="#000" color="#000" textLength="45.6" lengthAdjust="spacingAndGlyphs" >4 Jun 2019</text>
<text x="448.2" y="815" font-size="9.1" fill="#000" color="#000" textLength="50.8" lengthAdjust="spacingAndGlyphs" >22 Jun 2019</text>
<text x="512.2" y="815" font-size="9.1" fill="#000" color="#000" textLength="47.0" lengthAdjust="spacingAndGlyphs" >11 Jul 2019</text>
<text x="576.2" y="815" font-size="9.1" fill="#000" color="#000" textLength="47.7" lengthAdjust="spacingAndGlyphs" >30 Jul 2019</text>
<text x="640.2" y="815" font-size="9.1" fill="#000" color="#000" textLength="51.8" lengthAdjust="spacingAndGlyphs" >17 Aug 2019</text>
<text x="704.2" y="815" font-size="9.1" fill="#000" color="#000" textLength="47.2" lengthAdjust="spacingAndGlyphs" >5 Sep 2019</text>
<text x="768.2" y="815" font-size="9.1" fill="#000" color="#000" textLength="52.3" lengthAdjust="spacingAndGlyphs" >24 Sep 2019</text>
<text x="832.2" y="815" font-size="9.1" fill="#000" color="#000" textLength="50.3" lengthAdjust="spacingAndGlyphs" >12 Oct 2019</text>
<text x="896.2" y="815" font-size="9.1" fill="#000" color="#000" textLength="50.3" lengthAdjust="spacingAndGlyphs" >31 Oct 2019</text>
<text x="960.2" y="815" font-size="9.1" fill="#000" color="#000" textLength="52.3" lengthAdjust="spacingAndGlyphs" >19 Nov 2019</text>
<text x="1024.2" y="815" font-size="9.1" fill="#000" color="#000" textLength="47.2" lengthAdjust="spacingAndGlyphs" >7 Dec 2019</text>
<text x="1088.2" y="815" font-size="9.1" fill="#000" color="#000" textLength="52.3" lengthAdjust="spacingAndGlyphs" >26 Dec 2019</text>
<text x="1152.2" y="815" font-size="9.1" fill="#000" color="#000" textLength="50.8" lengthAdjust="spacingAndGlyphs" >14 Jan 2020</text>
<text x="1216.2" y="815" font-size="9.1" fill="#000" color="#000" textLength="46.7" lengthAdjust="spacingAndGlyphs" >1 Feb 2020</text>
<text x="1280.2" y="815" font-size="9.1" fill="#000" color="#000" textLength="51.8" lengthAdjust="spacingAndGlyphs" >20 Feb 2020</text>
<path d="M1 803h1v3h-1z M65 803h1v3h-1z M129 803h1v3h-1z M193 803h1v3h-1z M257 803h1v3h-1z M321 803h1v3h-1z M385 803h1v3h-1z M449 803h1v3h-1z M513 803h1v3h-1z M577 803h1v3h-1z M641 803h1v3h-1z M705 803h1v3h-1z M769 803h1v3h-1z M833 803h1v3h-1z M897 803h1v3h-1z M961 803h1v3h-1z M1025 803h1v3h-1z M1089 803h1v3h-1z M1153 803h1v3h-1z M1217 803h1v3h-1z M1281 803h1v3h-1z" fill="#000"/>
<rect x="0" y="823" width="1680" height="1" fill="#e3e3e3"/>
<rect x="0" y="824" width="1680" height="1" fill="#fff"/>
<rect x="0" y="825" width="1680" height="1" fill="#000"/>
<rect x="0" y="826" width="1680" height="1" fill="#fafafa"/>
<rect x="0" y="827" width="1680" height="18" fill="#f0f0f0"/>
<rect x="0" y="845" width="1680" height="1" fill="#fcfcfc"/>
<rect x="0" y="846" width="1680" height="2" fill="#f0f0f0"/>
<rect x="298" y="825" width="104" height="19" fill="#000"/><rect x="299" y="825" width="102" height="18" fill="#fff"/>
<text x="14.5" y="840" font-size="12" fill="#6a6a6a" color="#6a6a6a" textLength="79.3" lengthAdjust="spacingAndGlyphs" >EURUSD,Daily</text>
<text x="116.3" y="840" font-size="12" fill="#6a6a6a" color="#6a6a6a" textLength="78.7" lengthAdjust="spacingAndGlyphs" >USDCHF,Daily</text>
<text x="217.5" y="840" font-size="12" fill="#6a6a6a" color="#6a6a6a" textLength="69.5" lengthAdjust="spacingAndGlyphs" >AUDUSD,H4</text>
<text x="309.6" y="840" font-size="12" fill="#000" color="#000" textLength="80.0" lengthAdjust="spacingAndGlyphs" >USDCAD,Daily</text>
<text x="412.5" y="840" font-size="12" fill="#6a6a6a" color="#6a6a6a" textLength="82.1" lengthAdjust="spacingAndGlyphs" >USDCNH,Daily</text>
<text x="517.9" y="840" font-size="12" fill="#6a6a6a" color="#6a6a6a" textLength="79.6" lengthAdjust="spacingAndGlyphs" >EURUSD,Daily</text>
<text x="622" y="840" font-size="12" fill="#6a6a6a" color="#6a6a6a" textLength="79.8" lengthAdjust="spacingAndGlyphs" >GBPUSD,Daily</text>
<text x="725.7" y="840" font-size="12" fill="#6a6a6a" color="#6a6a6a" textLength="71.3" lengthAdjust="spacingAndGlyphs" >XAUUSD,M5</text>
<text x="821.4" y="840" font-size="12" fill="#6a6a6a" color="#6a6a6a" textLength="49.0" lengthAdjust="spacingAndGlyphs" >HK50,H1</text>
<text x="893.6" y="840" font-size="12" fill="#6a6a6a" color="#6a6a6a" textLength="67.8" lengthAdjust="spacingAndGlyphs" >UK100,Daily</text>
<path d="M106 828h1v14h-1z M206 828h1v14h-1z M506 828h1v14h-1z M610 828h1v14h-1z M714 828h1v14h-1z M810 828h1v14h-1z M882 828h1v14h-1z M974 828h1v14h-1z" fill="#555"/>
<path d="M1657 830 L1657 838 L1653 834 Z M1672 830 L1672 838 L1676 834 Z" fill="#a0a0a0" shape-rendering="auto"/>
</svg></body></html>
